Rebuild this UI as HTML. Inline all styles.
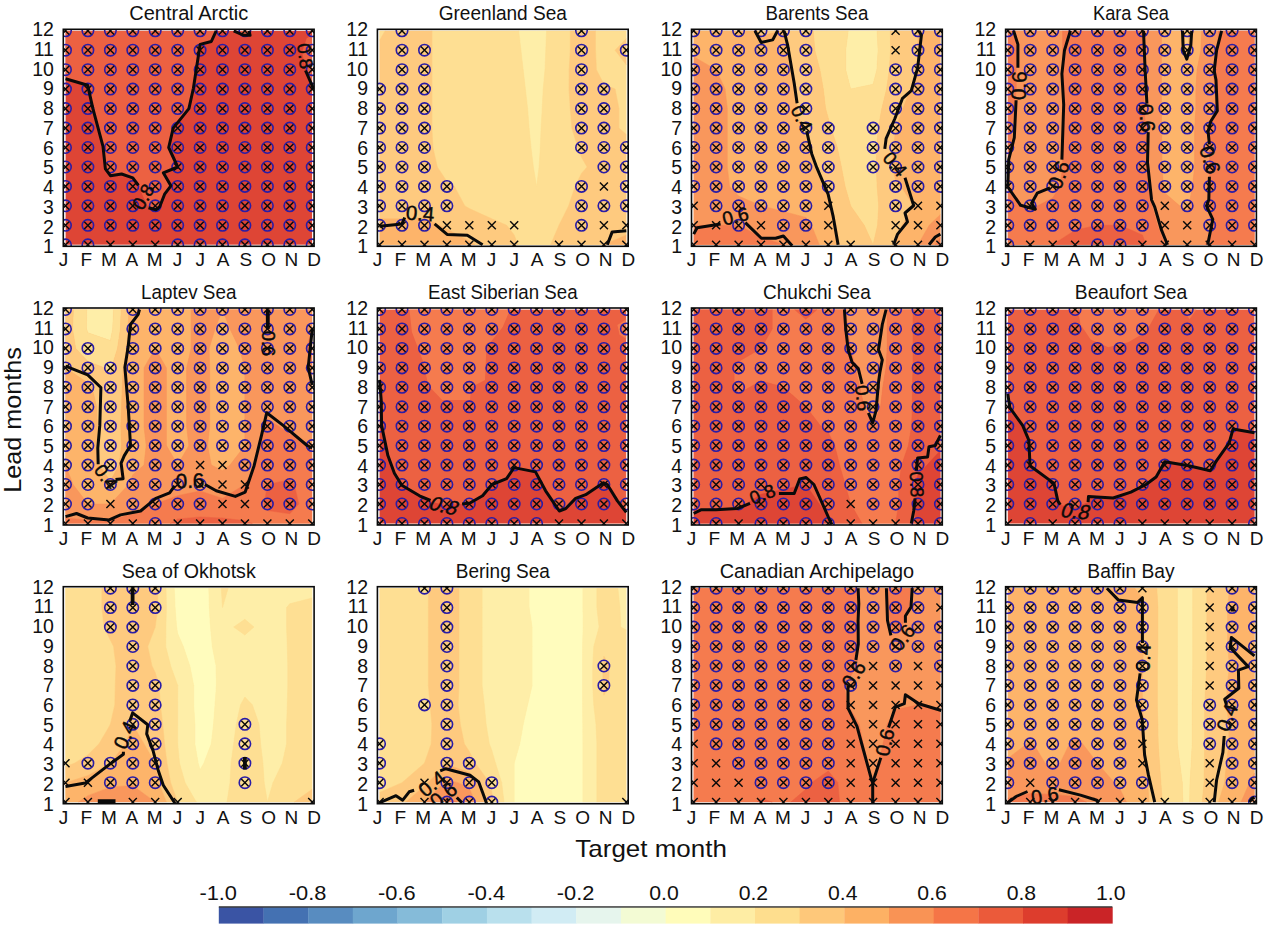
<!DOCTYPE html>
<html lang="en"><head><meta charset="utf-8"><title>Lead months vs target month</title>
<style>html,body{margin:0;padding:0;background:#fff}svg{display:block}</style></head>
<body>
<svg width="1268" height="932" viewBox="0 0 1268 932" font-family='"Liberation Sans", sans-serif'>
<rect width="1268" height="932" fill="#fff"/>
<defs>
<g id="mx"><path d="M-4-4L4 4M-4 4L4-4" stroke="#0a0a0a" stroke-width="1.45" fill="none"/></g>
<g id="mc"><circle r="5.7" fill="none" stroke="#2a1ca6" stroke-width="1.6"/><path d="M-3.6-3.6L3.6 3.6M-3.6 3.6L3.6-3.6" stroke="#0a0a0a" stroke-width="1.45" fill="none"/></g>
</defs>
<g>
<clipPath id="cp0"><rect x="65.2" y="30.5" width="247.3" height="214.5"/></clipPath>
<clipPath id="cl0"><rect x="64" y="29.3" width="249.7" height="216.9"/></clipPath>
<clipPath id="cq0"><rect x="63.3" y="29.3" width="250.8" height="217"/></clipPath>
<g clip-path="url(#cp0)">
<rect x="65.5" y="30.8" width="246.7" height="213.9" fill="#de4535"/>
<path d="M65.5 78.8L87.7 85.3L92.9 108.6L103 146.3L105.4 168.9L110.4 175.7L121.6 174L132.8 177.8L138.4 185.4L142.9 196.1L148.5 207.8L155.9 209.7L159.7 206.8L164.6 194.2L170.9 185.8L163.3 172.8L177.7 167L168.7 147.5L173.2 128.1L188.9 108.6L193.4 88.2L200.1 44.4L211.3 41.5L216.2 30.8L65.5 30.8Z" fill="#ec6142"/>
<path d="M233.7 30.8L243.8 35.3L250.1 35.3L249 30.8Z" fill="#ec6142"/>
<path d="M312.2 88.2L305.5 67.8L302.1 52.2L306.6 38.6L312.2 34.7Z" fill="#ec6142"/>
</g>
<g clip-path="url(#cq0)">
<use href="#mc" x="65.5" y="30.8"/>
<use href="#mc" x="87.9" y="30.8"/>
<use href="#mc" x="110.4" y="30.8"/>
<use href="#mc" x="132.8" y="30.8"/>
<use href="#mc" x="155.2" y="30.8"/>
<use href="#mc" x="177.7" y="30.8"/>
<use href="#mc" x="200.1" y="30.8"/>
<use href="#mc" x="222.5" y="30.8"/>
<use href="#mc" x="244.9" y="30.8"/>
<use href="#mc" x="267.4" y="30.8"/>
<use href="#mc" x="289.8" y="30.8"/>
<use href="#mc" x="312.2" y="30.8"/>
<use href="#mc" x="65.5" y="50.2"/>
<use href="#mc" x="87.9" y="50.2"/>
<use href="#mc" x="110.4" y="50.2"/>
<use href="#mc" x="132.8" y="50.2"/>
<use href="#mc" x="155.2" y="50.2"/>
<use href="#mc" x="177.7" y="50.2"/>
<use href="#mc" x="200.1" y="50.2"/>
<use href="#mc" x="222.5" y="50.2"/>
<use href="#mc" x="244.9" y="50.2"/>
<use href="#mc" x="267.4" y="50.2"/>
<use href="#mc" x="289.8" y="50.2"/>
<use href="#mc" x="312.2" y="50.2"/>
<use href="#mc" x="65.5" y="69.7"/>
<use href="#mc" x="87.9" y="69.7"/>
<use href="#mc" x="110.4" y="69.7"/>
<use href="#mc" x="132.8" y="69.7"/>
<use href="#mc" x="155.2" y="69.7"/>
<use href="#mc" x="177.7" y="69.7"/>
<use href="#mc" x="200.1" y="69.7"/>
<use href="#mc" x="222.5" y="69.7"/>
<use href="#mc" x="244.9" y="69.7"/>
<use href="#mc" x="267.4" y="69.7"/>
<use href="#mc" x="289.8" y="69.7"/>
<use href="#mc" x="312.2" y="69.7"/>
<use href="#mc" x="65.5" y="89.1"/>
<use href="#mc" x="87.9" y="89.1"/>
<use href="#mc" x="110.4" y="89.1"/>
<use href="#mc" x="132.8" y="89.1"/>
<use href="#mc" x="155.2" y="89.1"/>
<use href="#mc" x="177.7" y="89.1"/>
<use href="#mc" x="200.1" y="89.1"/>
<use href="#mc" x="222.5" y="89.1"/>
<use href="#mc" x="244.9" y="89.1"/>
<use href="#mc" x="267.4" y="89.1"/>
<use href="#mc" x="289.8" y="89.1"/>
<use href="#mc" x="312.2" y="89.1"/>
<use href="#mc" x="65.5" y="108.6"/>
<use href="#mc" x="87.9" y="108.6"/>
<use href="#mc" x="110.4" y="108.6"/>
<use href="#mc" x="132.8" y="108.6"/>
<use href="#mc" x="155.2" y="108.6"/>
<use href="#mc" x="177.7" y="108.6"/>
<use href="#mc" x="200.1" y="108.6"/>
<use href="#mc" x="222.5" y="108.6"/>
<use href="#mc" x="244.9" y="108.6"/>
<use href="#mc" x="267.4" y="108.6"/>
<use href="#mc" x="289.8" y="108.6"/>
<use href="#mc" x="312.2" y="108.6"/>
<use href="#mc" x="65.5" y="128.1"/>
<use href="#mc" x="87.9" y="128.1"/>
<use href="#mc" x="110.4" y="128.1"/>
<use href="#mc" x="132.8" y="128.1"/>
<use href="#mc" x="155.2" y="128.1"/>
<use href="#mc" x="177.7" y="128.1"/>
<use href="#mc" x="200.1" y="128.1"/>
<use href="#mc" x="222.5" y="128.1"/>
<use href="#mc" x="244.9" y="128.1"/>
<use href="#mc" x="267.4" y="128.1"/>
<use href="#mc" x="289.8" y="128.1"/>
<use href="#mc" x="312.2" y="128.1"/>
<use href="#mc" x="65.5" y="147.5"/>
<use href="#mc" x="87.9" y="147.5"/>
<use href="#mc" x="110.4" y="147.5"/>
<use href="#mc" x="132.8" y="147.5"/>
<use href="#mc" x="155.2" y="147.5"/>
<use href="#mc" x="177.7" y="147.5"/>
<use href="#mc" x="200.1" y="147.5"/>
<use href="#mc" x="222.5" y="147.5"/>
<use href="#mc" x="244.9" y="147.5"/>
<use href="#mc" x="267.4" y="147.5"/>
<use href="#mc" x="289.8" y="147.5"/>
<use href="#mc" x="312.2" y="147.5"/>
<use href="#mc" x="65.5" y="167"/>
<use href="#mc" x="87.9" y="167"/>
<use href="#mc" x="110.4" y="167"/>
<use href="#mc" x="132.8" y="167"/>
<use href="#mc" x="155.2" y="167"/>
<use href="#mc" x="177.7" y="167"/>
<use href="#mc" x="200.1" y="167"/>
<use href="#mc" x="222.5" y="167"/>
<use href="#mc" x="244.9" y="167"/>
<use href="#mc" x="267.4" y="167"/>
<use href="#mc" x="289.8" y="167"/>
<use href="#mc" x="312.2" y="167"/>
<use href="#mc" x="65.5" y="186.4"/>
<use href="#mc" x="87.9" y="186.4"/>
<use href="#mc" x="110.4" y="186.4"/>
<use href="#mc" x="132.8" y="186.4"/>
<use href="#mc" x="155.2" y="186.4"/>
<use href="#mc" x="177.7" y="186.4"/>
<use href="#mc" x="200.1" y="186.4"/>
<use href="#mc" x="222.5" y="186.4"/>
<use href="#mc" x="244.9" y="186.4"/>
<use href="#mc" x="267.4" y="186.4"/>
<use href="#mc" x="289.8" y="186.4"/>
<use href="#mc" x="312.2" y="186.4"/>
<use href="#mc" x="65.5" y="205.8"/>
<use href="#mc" x="87.9" y="205.8"/>
<use href="#mc" x="110.4" y="205.8"/>
<use href="#mc" x="132.8" y="205.8"/>
<use href="#mc" x="155.2" y="205.8"/>
<use href="#mc" x="177.7" y="205.8"/>
<use href="#mc" x="200.1" y="205.8"/>
<use href="#mc" x="222.5" y="205.8"/>
<use href="#mc" x="244.9" y="205.8"/>
<use href="#mc" x="267.4" y="205.8"/>
<use href="#mc" x="289.8" y="205.8"/>
<use href="#mc" x="312.2" y="205.8"/>
<use href="#mc" x="65.5" y="225.3"/>
<use href="#mc" x="87.9" y="225.3"/>
<use href="#mc" x="110.4" y="225.3"/>
<use href="#mc" x="132.8" y="225.3"/>
<use href="#mc" x="155.2" y="225.3"/>
<use href="#mc" x="177.7" y="225.3"/>
<use href="#mc" x="200.1" y="225.3"/>
<use href="#mc" x="222.5" y="225.3"/>
<use href="#mc" x="244.9" y="225.3"/>
<use href="#mc" x="267.4" y="225.3"/>
<use href="#mc" x="289.8" y="225.3"/>
<use href="#mc" x="312.2" y="225.3"/>
<use href="#mc" x="65.5" y="244.8"/>
<use href="#mc" x="87.9" y="244.8"/>
<use href="#mx" x="110.4" y="244.8"/>
<use href="#mx" x="132.8" y="244.8"/>
<use href="#mx" x="155.2" y="244.8"/>
<use href="#mc" x="177.7" y="244.8"/>
<use href="#mc" x="200.1" y="244.8"/>
<use href="#mc" x="222.5" y="244.8"/>
<use href="#mc" x="244.9" y="244.8"/>
<use href="#mc" x="267.4" y="244.8"/>
<use href="#mc" x="289.8" y="244.8"/>
<use href="#mc" x="312.2" y="244.8"/>
<path d="M65.5 78.8L87.7 85.3L92.9 108.6L103 146.3L105.4 168.9L110.4 175.7L121.6 174L132.8 177.8L138.4 185.4" fill="none" stroke="#0a0a0a" stroke-width="3" stroke-linejoin="round" stroke-linecap="butt"/>
<path d="M148.5 207.8L155.9 209.7L159.7 206.8L164.6 194.2L170.9 185.8L163.3 172.8L177.7 167L168.7 147.5L173.2 128.1L188.9 108.6L193.4 88.2L200.1 44.4L211.3 41.5L216.2 30.8" fill="none" stroke="#0a0a0a" stroke-width="3" stroke-linejoin="round" stroke-linecap="butt"/>
<path d="M233.7 30.8L243.8 35.3L250.1 35.3L249 30.8" fill="none" stroke="#0a0a0a" stroke-width="3" stroke-linejoin="round" stroke-linecap="butt"/>
<path d="M305.5 70.5L313.8 89.3" fill="none" stroke="#0a0a0a" stroke-width="3" stroke-linejoin="round" stroke-linecap="butt"/>
</g>
<g clip-path="url(#cl0)">
<text x="0" y="6.6" transform="translate(143.1 196.7) rotate(-60)" font-size="18.55" text-anchor="middle" fill="#0a0a0a" stroke="#0a0a0a" stroke-width="0.45">0.8</text>
<text x="0" y="6.6" transform="translate(305.3 56.1) rotate(82)" font-size="18.55" text-anchor="middle" fill="#0a0a0a" stroke="#0a0a0a" stroke-width="0.45">0.8</text>
</g>
<rect x="63.3" y="29.3" width="250.8" height="217" fill="none" stroke="#0a0a0a" stroke-width="1.6"/>
<text x="188.7" y="20.1" font-size="19.3" text-anchor="middle" textLength="118.9" lengthAdjust="spacingAndGlyphs" fill="#111">Central Arctic</text>
<text x="63.4" y="266.1" font-size="19" text-anchor="middle" fill="#111">J</text>
<text x="86.2" y="266.1" font-size="19" text-anchor="middle" fill="#111">F</text>
<text x="109" y="266.1" font-size="19" text-anchor="middle" fill="#111">M</text>
<text x="131.8" y="266.1" font-size="19" text-anchor="middle" fill="#111">A</text>
<text x="154.6" y="266.1" font-size="19" text-anchor="middle" fill="#111">M</text>
<text x="177.4" y="266.1" font-size="19" text-anchor="middle" fill="#111">J</text>
<text x="200.2" y="266.1" font-size="19" text-anchor="middle" fill="#111">J</text>
<text x="223" y="266.1" font-size="19" text-anchor="middle" fill="#111">A</text>
<text x="245.8" y="266.1" font-size="19" text-anchor="middle" fill="#111">S</text>
<text x="268.6" y="266.1" font-size="19" text-anchor="middle" fill="#111">O</text>
<text x="291.4" y="266.1" font-size="19" text-anchor="middle" fill="#111">N</text>
<text x="314.2" y="266.1" font-size="19" text-anchor="middle" fill="#111">D</text>
<text x="53.9" y="36.2" font-size="19.5" text-anchor="end" fill="#111">12</text>
<text x="53.9" y="55.9" font-size="19.5" text-anchor="end" fill="#111">11</text>
<text x="53.9" y="75.7" font-size="19.5" text-anchor="end" fill="#111">10</text>
<text x="53.9" y="95.4" font-size="19.5" text-anchor="end" fill="#111">9</text>
<text x="53.9" y="115.1" font-size="19.5" text-anchor="end" fill="#111">8</text>
<text x="53.9" y="134.8" font-size="19.5" text-anchor="end" fill="#111">7</text>
<text x="53.9" y="154.6" font-size="19.5" text-anchor="end" fill="#111">6</text>
<text x="53.9" y="174.3" font-size="19.5" text-anchor="end" fill="#111">5</text>
<text x="53.9" y="194" font-size="19.5" text-anchor="end" fill="#111">4</text>
<text x="53.9" y="213.7" font-size="19.5" text-anchor="end" fill="#111">3</text>
<text x="53.9" y="233.5" font-size="19.5" text-anchor="end" fill="#111">2</text>
<text x="53.9" y="253.2" font-size="19.5" text-anchor="end" fill="#111">1</text>
</g>
<g>
<clipPath id="cp1"><rect x="379.3" y="30.5" width="247.3" height="214.5"/></clipPath>
<clipPath id="cl1"><rect x="378.1" y="29.3" width="249.7" height="216.9"/></clipPath>
<clipPath id="cq1"><rect x="377.4" y="29.3" width="250.8" height="217"/></clipPath>
<g clip-path="url(#cp1)">
<rect x="379.6" y="30.8" width="246.7" height="213.9" fill="#fedf93"/>
<path d="M518.7 30.8L536.6 30.8L546.6 30.8L545.8 50.2L545 69.7L543.2 89.1L542.2 108.6L541.1 128.1L540.3 147.5L539.1 167L536.6 186.4L536.6 186.4L536.6 186.4L533.4 167L531 147.5L529.1 128.1L527.6 108.6L525.4 89.2L523.2 69.7L520.9 50.2L518.7 30.8Z" fill="#feeea8" stroke="#feeea8" stroke-width="0.5" fill-rule="evenodd"/>
<path d="M379.6 30.8L385.2 30.8L379.6 40.5L379.6 30.8ZM431.9 30.8L446.9 30.8L469.3 30.8L491.8 30.8L514.2 30.8L518.7 30.8L520.9 50.2L523.2 69.7L525.4 89.1L527.6 108.6L529.1 128.1L531 147.5L533.4 167L536.6 186.4L536.6 186.4L536.6 186.4L539.1 167L540.3 147.5L541.1 128.1L542.2 108.6L543.2 89.1L545 69.7L545.8 50.2L546.6 30.8L559 30.8L570.3 30.8L570.3 50.2L569.2 69.7L569 89.1L570.3 108.6L571.9 128.1L577.7 147.5L581.5 157.2L587.1 167L581.5 173.4L575.1 186.4L568.7 205.8L559 225.3L559 225.3L550.6 244.8L536.6 244.8L517.9 244.8L514.2 235L506.7 225.3L491.8 218.8L469.3 208.6L464.8 205.8L454.4 186.4L446.9 181.5L437.3 167L432.9 147.5L431.9 128.1L431.9 108.6L431.9 89.1L431.9 69.7L431.9 50.2L431.9 30.8ZM595.5 30.8L603.9 30.8L626.3 30.8L626.3 38.6L615.1 50.2L626.3 64.8L626.3 69.7L626.3 89.1L626.3 108.6L626.3 128.1L626.3 134.5L618.9 128.1L618.9 108.6L615.1 89.1L603.9 84.3L596.4 69.7L595.5 50.2L595.5 30.8Z" fill="#fedf93" stroke="#fedf93" stroke-width="0.5" fill-rule="evenodd"/>
<path d="M385.2 30.8L402 30.8L424.5 30.8L431.9 30.8L431.9 50.2L431.9 69.7L431.9 89.1L431.9 108.6L431.9 128.1L432.9 147.5L437.3 167L446.9 181.5L454.4 186.4L464.8 205.9L469.3 208.6L491.8 218.8L506.7 225.3L514.2 235L517.9 244.8L514.2 244.8L491.8 244.8L474.9 244.8L469.3 240.9L446.9 229.2L439.4 225.3L424.5 217.5L402 218.8L379.6 218.8L379.6 205.8L379.6 186.4L379.6 167L379.6 147.5L379.6 128.1L379.6 108.6L379.6 89.1L379.6 69.7L379.6 50.2L379.6 40.5L385.2 30.8ZM570.3 30.8L581.5 30.8L595.5 30.8L595.5 50.2L596.4 69.7L603.9 84.3L615.1 89.1L618.9 108.6L618.9 128.1L626.3 134.5L626.3 147.5L626.3 167L626.3 186.4L626.3 205.8L626.3 225.3L626.3 235L603.9 244.8L603.9 244.8L581.5 244.8L559 244.8L550.6 244.8L559 225.3L559 225.3L568.7 205.8L575.1 186.4L581.5 173.4L587.1 167L581.5 157.2L577.7 147.5L571.9 128.1L570.3 108.6L569 89.1L569.2 69.7L570.3 50.2L570.3 30.8ZM615.1 50.2L626.3 38.6L626.3 50.2L626.3 64.8L615.1 50.2Z" fill="#feca7f" stroke="#feca7f" stroke-width="0.5" fill-rule="evenodd"/>
<path d="M379.6 225.3L379.6 218.8L402 218.8L424.5 217.5L439.4 225.3L446.9 229.2L469.3 240.9L474.9 244.8L469.3 244.8L446.9 244.8L424.5 244.8L402 244.8L379.6 244.8L379.6 225.3ZM603.9 244.8L626.3 235L626.3 244.8L603.9 244.8Z" fill="#fdb46a" stroke="#fdb46a" stroke-width="0.5" fill-rule="evenodd"/>
</g>
<g clip-path="url(#cq1)">
<use href="#mc" x="402" y="30.8"/>
<use href="#mc" x="581.5" y="30.8"/>
<use href="#mc" x="402" y="50.2"/>
<use href="#mc" x="424.5" y="50.2"/>
<use href="#mc" x="581.5" y="50.2"/>
<use href="#mc" x="626.3" y="50.2"/>
<use href="#mc" x="402" y="69.7"/>
<use href="#mc" x="424.5" y="69.7"/>
<use href="#mc" x="581.5" y="69.7"/>
<use href="#mc" x="379.6" y="89.1"/>
<use href="#mc" x="402" y="89.1"/>
<use href="#mc" x="424.5" y="89.1"/>
<use href="#mc" x="581.5" y="89.1"/>
<use href="#mc" x="603.9" y="89.1"/>
<use href="#mc" x="379.6" y="108.6"/>
<use href="#mc" x="402" y="108.6"/>
<use href="#mc" x="424.5" y="108.6"/>
<use href="#mc" x="581.5" y="108.6"/>
<use href="#mc" x="603.9" y="108.6"/>
<use href="#mc" x="379.6" y="128.1"/>
<use href="#mc" x="402" y="128.1"/>
<use href="#mc" x="424.5" y="128.1"/>
<use href="#mc" x="581.5" y="128.1"/>
<use href="#mc" x="603.9" y="128.1"/>
<use href="#mc" x="379.6" y="147.5"/>
<use href="#mc" x="402" y="147.5"/>
<use href="#mc" x="424.5" y="147.5"/>
<use href="#mc" x="581.5" y="147.5"/>
<use href="#mc" x="603.9" y="147.5"/>
<use href="#mc" x="626.3" y="147.5"/>
<use href="#mc" x="379.6" y="167"/>
<use href="#mc" x="402" y="167"/>
<use href="#mc" x="424.5" y="167"/>
<use href="#mc" x="603.9" y="167"/>
<use href="#mc" x="626.3" y="167"/>
<use href="#mc" x="379.6" y="186.4"/>
<use href="#mc" x="402" y="186.4"/>
<use href="#mc" x="424.5" y="186.4"/>
<use href="#mc" x="446.9" y="186.4"/>
<use href="#mc" x="581.5" y="186.4"/>
<use href="#mx" x="603.9" y="186.4"/>
<use href="#mc" x="626.3" y="186.4"/>
<use href="#mc" x="379.6" y="205.8"/>
<use href="#mc" x="402" y="205.8"/>
<use href="#mc" x="424.5" y="205.8"/>
<use href="#mc" x="446.9" y="205.8"/>
<use href="#mc" x="581.5" y="205.8"/>
<use href="#mc" x="603.9" y="205.8"/>
<use href="#mc" x="626.3" y="205.8"/>
<use href="#mc" x="379.6" y="225.3"/>
<use href="#mc" x="402" y="225.3"/>
<use href="#mc" x="424.5" y="225.3"/>
<use href="#mx" x="446.9" y="225.3"/>
<use href="#mx" x="469.3" y="225.3"/>
<use href="#mx" x="491.8" y="225.3"/>
<use href="#mx" x="514.2" y="225.3"/>
<use href="#mc" x="581.5" y="225.3"/>
<use href="#mx" x="603.9" y="225.3"/>
<use href="#mx" x="626.3" y="225.3"/>
<use href="#mx" x="379.6" y="244.8"/>
<use href="#mx" x="402" y="244.8"/>
<use href="#mx" x="424.5" y="244.8"/>
<use href="#mx" x="446.9" y="244.8"/>
<use href="#mx" x="469.3" y="244.8"/>
<use href="#mx" x="491.8" y="244.8"/>
<use href="#mx" x="514.2" y="244.8"/>
<use href="#mx" x="559" y="244.8"/>
<use href="#mx" x="581.5" y="244.8"/>
<use href="#mx" x="603.9" y="244.8"/>
<use href="#mx" x="626.3" y="244.8"/>
<path d="M379.6 226.3L402 223.9L404.7 217.5" fill="none" stroke="#0a0a0a" stroke-width="3" stroke-linejoin="round" stroke-linecap="butt"/>
<path d="M434.6 223.9L447.1 234.4L467.3 235.2L482.6 244.8" fill="none" stroke="#0a0a0a" stroke-width="3" stroke-linejoin="round" stroke-linecap="butt"/>
<path d="M607.3 244.8L612.2 231.9L626.3 230.7" fill="none" stroke="#0a0a0a" stroke-width="3" stroke-linejoin="round" stroke-linecap="butt"/>
</g>
<g clip-path="url(#cl1)">
<text x="0" y="7.3" transform="translate(420.2 213.2) rotate(4)" font-size="20.458000000000002" text-anchor="middle" fill="#0a0a0a" stroke="#0a0a0a" stroke-width="0.45">0.4</text>
</g>
<rect x="377.4" y="29.3" width="250.8" height="217" fill="none" stroke="#0a0a0a" stroke-width="1.6"/>
<text x="502.8" y="20.1" font-size="19.3" text-anchor="middle" textLength="128.3" lengthAdjust="spacingAndGlyphs" fill="#111">Greenland Sea</text>
<text x="377.5" y="266.1" font-size="19" text-anchor="middle" fill="#111">J</text>
<text x="400.3" y="266.1" font-size="19" text-anchor="middle" fill="#111">F</text>
<text x="423.1" y="266.1" font-size="19" text-anchor="middle" fill="#111">M</text>
<text x="445.9" y="266.1" font-size="19" text-anchor="middle" fill="#111">A</text>
<text x="468.7" y="266.1" font-size="19" text-anchor="middle" fill="#111">M</text>
<text x="491.5" y="266.1" font-size="19" text-anchor="middle" fill="#111">J</text>
<text x="514.3" y="266.1" font-size="19" text-anchor="middle" fill="#111">J</text>
<text x="537.1" y="266.1" font-size="19" text-anchor="middle" fill="#111">A</text>
<text x="559.9" y="266.1" font-size="19" text-anchor="middle" fill="#111">S</text>
<text x="582.7" y="266.1" font-size="19" text-anchor="middle" fill="#111">O</text>
<text x="605.5" y="266.1" font-size="19" text-anchor="middle" fill="#111">N</text>
<text x="628.3" y="266.1" font-size="19" text-anchor="middle" fill="#111">D</text>
<text x="368" y="36.2" font-size="19.5" text-anchor="end" fill="#111">12</text>
<text x="368" y="55.9" font-size="19.5" text-anchor="end" fill="#111">11</text>
<text x="368" y="75.7" font-size="19.5" text-anchor="end" fill="#111">10</text>
<text x="368" y="95.4" font-size="19.5" text-anchor="end" fill="#111">9</text>
<text x="368" y="115.1" font-size="19.5" text-anchor="end" fill="#111">8</text>
<text x="368" y="134.8" font-size="19.5" text-anchor="end" fill="#111">7</text>
<text x="368" y="154.6" font-size="19.5" text-anchor="end" fill="#111">6</text>
<text x="368" y="174.3" font-size="19.5" text-anchor="end" fill="#111">5</text>
<text x="368" y="194" font-size="19.5" text-anchor="end" fill="#111">4</text>
<text x="368" y="213.7" font-size="19.5" text-anchor="end" fill="#111">3</text>
<text x="368" y="233.5" font-size="19.5" text-anchor="end" fill="#111">2</text>
<text x="368" y="253.2" font-size="19.5" text-anchor="end" fill="#111">1</text>
</g>
<g>
<clipPath id="cp2"><rect x="693.4" y="30.5" width="247.3" height="214.5"/></clipPath>
<clipPath id="cl2"><rect x="692.2" y="29.3" width="249.7" height="216.9"/></clipPath>
<clipPath id="cq2"><rect x="691.5" y="29.3" width="250.8" height="217"/></clipPath>
<g clip-path="url(#cp2)">
<rect x="693.7" y="30.8" width="246.7" height="213.9" fill="#fdb46a"/>
<path d="M848.2 30.8L850.7 30.8L873.1 30.8L877.1 30.8L878.1 50.2L876.9 69.7L873.1 84.3L850.7 89.1L850.7 89.2L850.7 89.1L845.7 69.7L845.7 50.2L848.2 30.8Z" fill="#feeea8" stroke="#feeea8" stroke-width="0.5" fill-rule="evenodd"/>
<path d="M813.3 30.8L828.3 30.8L848.2 30.8L845.7 50.2L845.7 69.7L850.7 89.1L850.7 89.2L850.7 89.1L873.1 84.3L876.9 69.7L878.1 50.2L877.1 30.8L890.3 30.8L890.6 50.2L889.3 69.7L886.6 89.1L881.8 108.6L878.3 128.1L876.6 147.5L876.3 167L877.2 186.4L878.7 205.8L877.6 225.3L873.1 244.8L873.1 244.8L873.1 244.8L864.2 225.3L850.7 205.9L850.7 205.8L845.1 186.4L841.4 167L837.3 147.5L831.1 128.1L828.3 118.3L825.6 108.6L823.3 89.1L819.9 69.7L814.8 50.2L813.3 30.8Z" fill="#fedf93" stroke="#fedf93" stroke-width="0.5" fill-rule="evenodd"/>
<path d="M757.3 30.8L761 30.8L783.4 30.8L805.9 30.8L813.3 30.8L814.8 50.2L819.9 69.7L823.3 89.1L825.6 108.6L828.3 118.3L831.1 128.1L837.3 147.5L841.4 167L845.1 186.4L850.7 205.8L850.7 205.9L864.2 225.3L873.1 244.8L850.7 244.8L839.5 244.8L836.4 225.3L830.3 205.8L828.3 196.1L824.5 186.4L817.1 167L809.1 147.5L805.8 137.8L801.4 128.1L797.2 108.6L794.6 89.1L791.8 69.7L787.9 50.2L783.4 30.8L761 35.7L757.3 30.8ZM890.3 30.8L895.6 30.8L918 30.8L918 30.8L918 50.2L918 69.7L918 69.7L910.5 89.1L903 108.6L895.6 128.1L895.6 128.1L893.8 147.5L892.4 167L895.6 179.9L901.2 186.4L913.5 205.8L902 225.3L895.6 238.3L893.5 244.8L873.1 244.7L877.6 225.3L878.7 205.8L877.2 186.4L876.3 167L876.6 147.5L878.3 128.1L881.8 108.6L886.6 89.1L889.3 69.7L890.6 50.2L890.3 30.8Z" fill="#feca7f" stroke="#feca7f" stroke-width="0.5" fill-rule="evenodd"/>
<path d="M693.7 30.8L716.1 30.8L738.6 30.8L757.3 30.8L761 35.7L783.4 30.8L787.9 50.2L791.8 69.7L794.6 89.1L797.2 108.6L801.4 128.1L805.9 137.8L809.1 147.5L817.1 167L824.5 186.4L828.3 196.1L830.3 205.8L836.4 225.3L839.5 244.8L828.3 244.8L819.3 244.8L811.5 225.3L805.9 217.5L783.4 211.4L761 205.9L761 205.8L738.6 196.1L729.6 186.4L727.3 166.9L727.3 147.5L727.3 128.1L727.3 108.6L725.1 89.1L716.1 69.7L716.1 69.7L693.7 56.7L693.7 50.2L693.7 30.8ZM918 30.8L940.4 30.8L940.4 50.2L940.4 69.7L940.4 89.1L940.4 108.6L940.4 128.1L940.4 147.5L940.4 167L940.4 186.4L940.4 205.8L940.4 214.5L929.2 225.3L918 244.7L918 244.8L895.6 244.8L893.5 244.8L895.6 238.3L902 225.3L913.5 205.8L901.2 186.4L895.6 179.9L892.4 167L893.8 147.5L895.6 128.1L895.6 128.1L903 108.6L910.5 89.1L918 69.7L918 69.7L918 50.2L918 30.8Z" fill="#fdb46a" stroke="#fdb46a" stroke-width="0.5" fill-rule="evenodd"/>
<path d="M693.7 69.7L693.7 56.7L716.1 69.7L716.1 69.7L725.1 89.1L727.3 108.6L727.3 128.1L727.3 147.5L727.3 167L729.6 186.4L738.6 196.1L761 205.8L761 205.8L783.4 211.4L805.9 217.5L811.5 225.3L819.3 244.8L805.9 244.8L783.4 244.8L783.4 244.8L761 237L738.6 225.3L716.1 225.3L693.7 225.3L693.7 225.3L693.7 205.8L693.7 186.4L693.7 167L693.7 147.5L693.7 128.1L693.7 108.6L693.7 89.1L693.7 69.7ZM929.2 225.3L940.4 214.5L940.4 225.3L940.4 237.5L935.3 244.8L918 244.8L929.2 225.3Z" fill="#f9975c" stroke="#f9975c" stroke-width="0.5" fill-rule="evenodd"/>
<path d="M693.7 244.8L693.7 225.3L716.1 225.3L738.6 225.3L761 237L783.4 244.8L761 244.8L738.6 244.8L716.1 244.8L693.7 244.8ZM935.3 244.8L940.4 237.5L940.4 244.8L935.3 244.8Z" fill="#f57b4e" stroke="#f57b4e" stroke-width="0.5" fill-rule="evenodd"/>
</g>
<g clip-path="url(#cq2)">
<use href="#mc" x="693.7" y="30.8"/>
<use href="#mc" x="716.1" y="30.8"/>
<use href="#mc" x="738.6" y="30.8"/>
<use href="#mc" x="761" y="30.8"/>
<use href="#mc" x="783.4" y="30.8"/>
<use href="#mc" x="805.9" y="30.8"/>
<use href="#mx" x="895.6" y="30.8"/>
<use href="#mc" x="918" y="30.8"/>
<use href="#mc" x="940.4" y="30.8"/>
<use href="#mc" x="693.7" y="50.2"/>
<use href="#mc" x="716.1" y="50.2"/>
<use href="#mc" x="738.6" y="50.2"/>
<use href="#mc" x="761" y="50.2"/>
<use href="#mc" x="783.4" y="50.2"/>
<use href="#mc" x="805.9" y="50.2"/>
<use href="#mx" x="895.6" y="50.2"/>
<use href="#mc" x="918" y="50.2"/>
<use href="#mc" x="940.4" y="50.2"/>
<use href="#mc" x="693.7" y="69.7"/>
<use href="#mc" x="716.1" y="69.7"/>
<use href="#mc" x="738.6" y="69.7"/>
<use href="#mc" x="761" y="69.7"/>
<use href="#mc" x="783.4" y="69.7"/>
<use href="#mc" x="805.9" y="69.7"/>
<use href="#mc" x="895.6" y="69.7"/>
<use href="#mc" x="918" y="69.7"/>
<use href="#mc" x="940.4" y="69.7"/>
<use href="#mc" x="693.7" y="89.1"/>
<use href="#mc" x="716.1" y="89.1"/>
<use href="#mc" x="738.6" y="89.1"/>
<use href="#mc" x="761" y="89.1"/>
<use href="#mc" x="783.4" y="89.1"/>
<use href="#mc" x="805.9" y="89.1"/>
<use href="#mc" x="895.6" y="89.1"/>
<use href="#mc" x="918" y="89.1"/>
<use href="#mc" x="940.4" y="89.1"/>
<use href="#mc" x="693.7" y="108.6"/>
<use href="#mc" x="716.1" y="108.6"/>
<use href="#mc" x="738.6" y="108.6"/>
<use href="#mc" x="761" y="108.6"/>
<use href="#mc" x="783.4" y="108.6"/>
<use href="#mc" x="805.9" y="108.6"/>
<use href="#mc" x="895.6" y="108.6"/>
<use href="#mc" x="918" y="108.6"/>
<use href="#mc" x="940.4" y="108.6"/>
<use href="#mc" x="693.7" y="128.1"/>
<use href="#mc" x="716.1" y="128.1"/>
<use href="#mc" x="738.6" y="128.1"/>
<use href="#mc" x="761" y="128.1"/>
<use href="#mc" x="783.4" y="128.1"/>
<use href="#mc" x="805.9" y="128.1"/>
<use href="#mc" x="828.3" y="128.1"/>
<use href="#mc" x="873.1" y="128.1"/>
<use href="#mc" x="895.6" y="128.1"/>
<use href="#mc" x="918" y="128.1"/>
<use href="#mc" x="940.4" y="128.1"/>
<use href="#mc" x="693.7" y="147.5"/>
<use href="#mc" x="716.1" y="147.5"/>
<use href="#mc" x="738.6" y="147.5"/>
<use href="#mc" x="761" y="147.5"/>
<use href="#mc" x="783.4" y="147.5"/>
<use href="#mc" x="805.9" y="147.5"/>
<use href="#mc" x="828.3" y="147.5"/>
<use href="#mc" x="873.1" y="147.5"/>
<use href="#mc" x="895.6" y="147.5"/>
<use href="#mc" x="918" y="147.5"/>
<use href="#mc" x="940.4" y="147.5"/>
<use href="#mc" x="693.7" y="167"/>
<use href="#mc" x="716.1" y="167"/>
<use href="#mc" x="738.6" y="167"/>
<use href="#mc" x="761" y="167"/>
<use href="#mc" x="783.4" y="167"/>
<use href="#mc" x="805.9" y="167"/>
<use href="#mc" x="828.3" y="167"/>
<use href="#mc" x="873.1" y="167"/>
<use href="#mc" x="895.6" y="167"/>
<use href="#mc" x="918" y="167"/>
<use href="#mc" x="940.4" y="167"/>
<use href="#mc" x="693.7" y="186.4"/>
<use href="#mc" x="716.1" y="186.4"/>
<use href="#mc" x="738.6" y="186.4"/>
<use href="#mc" x="761" y="186.4"/>
<use href="#mc" x="783.4" y="186.4"/>
<use href="#mc" x="805.9" y="186.4"/>
<use href="#mc" x="828.3" y="186.4"/>
<use href="#mc" x="895.6" y="186.4"/>
<use href="#mc" x="918" y="186.4"/>
<use href="#mc" x="940.4" y="186.4"/>
<use href="#mx" x="693.7" y="205.8"/>
<use href="#mc" x="716.1" y="205.8"/>
<use href="#mc" x="738.6" y="205.8"/>
<use href="#mc" x="761" y="205.8"/>
<use href="#mc" x="783.4" y="205.8"/>
<use href="#mc" x="805.9" y="205.8"/>
<use href="#mx" x="828.3" y="205.8"/>
<use href="#mc" x="895.6" y="205.8"/>
<use href="#mx" x="918" y="205.8"/>
<use href="#mx" x="940.4" y="205.8"/>
<use href="#mx" x="693.7" y="225.3"/>
<use href="#mx" x="716.1" y="225.3"/>
<use href="#mc" x="738.6" y="225.3"/>
<use href="#mx" x="761" y="225.3"/>
<use href="#mc" x="783.4" y="225.3"/>
<use href="#mc" x="805.9" y="225.3"/>
<use href="#mx" x="828.3" y="225.3"/>
<use href="#mx" x="895.6" y="225.3"/>
<use href="#mx" x="918" y="225.3"/>
<use href="#mx" x="940.4" y="225.3"/>
<use href="#mx" x="693.7" y="244.8"/>
<use href="#mx" x="716.1" y="244.8"/>
<use href="#mx" x="738.6" y="244.8"/>
<use href="#mx" x="761" y="244.8"/>
<use href="#mx" x="783.4" y="244.8"/>
<use href="#mx" x="805.9" y="244.8"/>
<use href="#mx" x="828.3" y="244.8"/>
<use href="#mx" x="850.7" y="244.8"/>
<use href="#mx" x="895.6" y="244.8"/>
<use href="#mx" x="918" y="244.8"/>
<use href="#mx" x="940.4" y="244.8"/>
<path d="M784.1 30.8L787.7 45.4L794.2 83.3L797.1 103.3" fill="none" stroke="#0a0a0a" stroke-width="3" stroke-linejoin="round" stroke-linecap="butt"/>
<path d="M806.7 131.2L811.7 153.7L816.8 167.7L828.1 194.2L833.2 216.7L838.1 244.8" fill="none" stroke="#0a0a0a" stroke-width="3" stroke-linejoin="round" stroke-linecap="butt"/>
<path d="M754.9 30.8L761.2 42.5L772.7 39.9L777.6 30.8" fill="none" stroke="#0a0a0a" stroke-width="3" stroke-linejoin="round" stroke-linecap="butt"/>
<path d="M918.9 30.8L921.4 35.3L917.6 68.1L911.3 90.7L902.5 98.3L894.9 118.5L886.1 138.7L884.8 148.9" fill="none" stroke="#0a0a0a" stroke-width="3" stroke-linejoin="round" stroke-linecap="butt"/>
<path d="M905 177.8L913.7 205.5L905 213L907.5 221.8L897.4 234.4L893.6 244.8" fill="none" stroke="#0a0a0a" stroke-width="3" stroke-linejoin="round" stroke-linecap="butt"/>
<path d="M693.7 234.1L697.1 227.8L720.6 224.1" fill="none" stroke="#0a0a0a" stroke-width="3" stroke-linejoin="round" stroke-linecap="butt"/>
<path d="M745.3 222.6L761.4 238.3L775.6 238.3L783.4 236L792.2 245.7" fill="none" stroke="#0a0a0a" stroke-width="3" stroke-linejoin="round" stroke-linecap="butt"/>
<path d="M929 244.8L935.3 237L940.4 234.1" fill="none" stroke="#0a0a0a" stroke-width="3" stroke-linejoin="round" stroke-linecap="butt"/>
</g>
<g clip-path="url(#cl2)">
<text x="0" y="6.6" transform="translate(801.8 118.1) rotate(65)" font-size="18.55" text-anchor="middle" fill="#0a0a0a" stroke="#0a0a0a" stroke-width="0.45">0.4</text>
<text x="0" y="6.6" transform="translate(895.1 164) rotate(50)" font-size="18.55" text-anchor="middle" fill="#0a0a0a" stroke="#0a0a0a" stroke-width="0.45">0.4</text>
<text x="0" y="6.8" transform="translate(735.4 216) rotate(-14)" font-size="19.080000000000002" text-anchor="middle" fill="#0a0a0a" stroke="#0a0a0a" stroke-width="0.45">0.6</text>
</g>
<rect x="691.5" y="29.3" width="250.8" height="217" fill="none" stroke="#0a0a0a" stroke-width="1.6"/>
<text x="816.9" y="20.1" font-size="19.3" text-anchor="middle" textLength="102.9" lengthAdjust="spacingAndGlyphs" fill="#111">Barents Sea</text>
<text x="691.6" y="266.1" font-size="19" text-anchor="middle" fill="#111">J</text>
<text x="714.4" y="266.1" font-size="19" text-anchor="middle" fill="#111">F</text>
<text x="737.2" y="266.1" font-size="19" text-anchor="middle" fill="#111">M</text>
<text x="760" y="266.1" font-size="19" text-anchor="middle" fill="#111">A</text>
<text x="782.8" y="266.1" font-size="19" text-anchor="middle" fill="#111">M</text>
<text x="805.6" y="266.1" font-size="19" text-anchor="middle" fill="#111">J</text>
<text x="828.4" y="266.1" font-size="19" text-anchor="middle" fill="#111">J</text>
<text x="851.2" y="266.1" font-size="19" text-anchor="middle" fill="#111">A</text>
<text x="874" y="266.1" font-size="19" text-anchor="middle" fill="#111">S</text>
<text x="896.8" y="266.1" font-size="19" text-anchor="middle" fill="#111">O</text>
<text x="919.6" y="266.1" font-size="19" text-anchor="middle" fill="#111">N</text>
<text x="942.4" y="266.1" font-size="19" text-anchor="middle" fill="#111">D</text>
<text x="682.1" y="36.2" font-size="19.5" text-anchor="end" fill="#111">12</text>
<text x="682.1" y="55.9" font-size="19.5" text-anchor="end" fill="#111">11</text>
<text x="682.1" y="75.7" font-size="19.5" text-anchor="end" fill="#111">10</text>
<text x="682.1" y="95.4" font-size="19.5" text-anchor="end" fill="#111">9</text>
<text x="682.1" y="115.1" font-size="19.5" text-anchor="end" fill="#111">8</text>
<text x="682.1" y="134.8" font-size="19.5" text-anchor="end" fill="#111">7</text>
<text x="682.1" y="154.6" font-size="19.5" text-anchor="end" fill="#111">6</text>
<text x="682.1" y="174.3" font-size="19.5" text-anchor="end" fill="#111">5</text>
<text x="682.1" y="194" font-size="19.5" text-anchor="end" fill="#111">4</text>
<text x="682.1" y="213.7" font-size="19.5" text-anchor="end" fill="#111">3</text>
<text x="682.1" y="233.5" font-size="19.5" text-anchor="end" fill="#111">2</text>
<text x="682.1" y="253.2" font-size="19.5" text-anchor="end" fill="#111">1</text>
</g>
<g>
<clipPath id="cp3"><rect x="1007.5" y="30.5" width="247.3" height="214.5"/></clipPath>
<clipPath id="cl3"><rect x="1006.3" y="29.3" width="249.7" height="216.9"/></clipPath>
<clipPath id="cq3"><rect x="1005.6" y="29.3" width="250.8" height="217"/></clipPath>
<g clip-path="url(#cp3)">
<rect x="1007.8" y="30.8" width="246.7" height="213.9" fill="#f57b4e"/>
<path d="M1184.7 30.8L1187.2 30.8L1188.6 30.8L1188.5 50.2L1187.2 55.1L1184.7 50.2L1184.7 30.8Z" fill="#feca7f" stroke="#feca7f" stroke-width="0.5" fill-rule="evenodd"/>
<path d="M1161.4 30.8L1164.8 30.8L1184.7 30.8L1184.7 50.2L1187.2 55.1L1188.5 50.2L1188.6 30.8L1201.8 30.8L1200.9 50.2L1197.1 69.7L1195.9 89.1L1195.9 108.6L1194.7 128.1L1194.7 147.5L1194.7 167L1192.4 186.4L1189.1 205.8L1187.2 210.7L1179.8 205.9L1164.8 192.9L1163.4 186.4L1162 167L1161.8 147.5L1161.6 128.1L1161.4 108.6L1161.4 89.1L1161.4 69.7L1161.4 50.2L1161.4 30.8Z" fill="#fdb46a" stroke="#fdb46a" stroke-width="0.5" fill-rule="evenodd"/>
<path d="M1014.2 30.8L1030.2 30.8L1052.7 30.8L1062.6 30.8L1062.6 50.2L1062.6 69.7L1062.6 89.1L1062.6 108.6L1062.6 128.1L1062.6 147.5L1062.6 167L1060.1 186.4L1052.7 198.1L1037.7 205.8L1030.2 210.7L1022.8 205.8L1007.8 186.4L1007.8 186.4L1007.8 167L1007.8 167L1011.5 147.5L1011.5 128.1L1014.2 108.6L1016.2 89.2L1016.2 69.7L1016.2 50.2L1014.2 30.8ZM1144.1 30.8L1161.4 30.8L1161.4 50.2L1161.4 69.7L1161.4 89.1L1161.4 108.6L1161.6 128.1L1161.8 147.5L1162 166.9L1163.4 186.4L1164.8 192.9L1179.8 205.9L1187.2 210.7L1189.1 205.9L1192.4 186.4L1194.7 167L1194.7 147.5L1194.7 128.1L1195.9 108.6L1195.9 89.1L1197.1 69.7L1200.9 50.2L1201.8 30.8L1209.7 30.8L1218.6 30.8L1217.1 50.2L1212.9 69.7L1215.3 89.1L1215.3 108.6L1209.7 128.1L1209.7 147.5L1209.7 167L1209.7 186.4L1209.7 186.4L1207.8 205.9L1209.7 215.6L1212.9 225.3L1209.7 235L1205.2 244.8L1187.2 244.8L1164.8 244.8L1164.8 244.8L1157.3 225.3L1152 205.8L1149.4 186.4L1148 167L1146.9 147.5L1145.6 128.1L1144.1 108.6L1144.1 89.1L1144.1 69.7L1144.1 50.2L1144.1 30.8Z" fill="#f9975c" stroke="#f9975c" stroke-width="0.5" fill-rule="evenodd"/>
<path d="M1007.8 30.8L1014.2 30.8L1016.2 50.2L1016.2 69.7L1016.2 89.1L1014.2 108.6L1011.5 128.1L1011.5 147.5L1007.8 166.9L1007.8 147.5L1007.8 128.1L1007.8 108.6L1007.8 89.1L1007.8 69.7L1007.8 50.2L1007.8 30.8ZM1062.6 30.8L1075.1 30.8L1097.5 30.8L1120 30.8L1142.4 30.8L1144.1 30.8L1144.1 50.2L1144.1 69.7L1144.1 89.1L1144.1 108.6L1145.6 128.1L1146.9 147.5L1148 167L1149.4 186.4L1152 205.8L1157.3 225.3L1164.8 244.8L1146.1 244.8L1142.4 235L1120 225.3L1097.5 225.3L1075.1 230.2L1052.7 244.8L1052.7 244.8L1030.2 244.8L1007.8 244.8L1007.8 225.3L1007.8 205.8L1007.8 186.4L1022.8 205.9L1030.2 210.7L1037.7 205.9L1052.7 198.1L1060.1 186.4L1062.6 167L1062.6 147.5L1062.6 128.1L1062.6 108.6L1062.6 89.1L1062.6 69.7L1062.6 50.2L1062.6 30.8ZM1218.6 30.8L1232.1 30.8L1254.5 30.8L1254.5 50.2L1254.5 69.7L1254.5 89.1L1254.5 108.6L1254.5 128.1L1254.5 147.5L1254.5 167L1254.5 186.4L1254.5 205.8L1254.5 225.3L1254.5 244.8L1232.1 244.8L1209.7 244.8L1205.2 244.8L1209.7 235L1212.9 225.3L1209.7 215.6L1207.8 205.8L1209.7 186.4L1209.7 186.4L1209.7 167L1209.7 147.5L1209.7 128L1215.3 108.6L1215.3 89.1L1212.9 69.7L1217.1 50.2L1218.6 30.8Z" fill="#f57b4e" stroke="#f57b4e" stroke-width="0.5" fill-rule="evenodd"/>
<path d="M1052.7 244.8L1075.1 230.2L1097.5 225.3L1120 225.3L1142.4 235L1146.1 244.8L1142.4 244.8L1120 244.8L1097.5 244.8L1075.1 244.8L1052.7 244.8Z" fill="#ec6142" stroke="#ec6142" stroke-width="0.5" fill-rule="evenodd"/>
</g>
<g clip-path="url(#cq3)">
<use href="#mc" x="1007.8" y="30.8"/>
<use href="#mc" x="1030.2" y="30.8"/>
<use href="#mc" x="1052.7" y="30.8"/>
<use href="#mc" x="1075.1" y="30.8"/>
<use href="#mc" x="1097.5" y="30.8"/>
<use href="#mc" x="1120" y="30.8"/>
<use href="#mc" x="1142.4" y="30.8"/>
<use href="#mc" x="1164.8" y="30.8"/>
<use href="#mc" x="1187.2" y="30.8"/>
<use href="#mc" x="1209.7" y="30.8"/>
<use href="#mc" x="1232.1" y="30.8"/>
<use href="#mc" x="1254.5" y="30.8"/>
<use href="#mc" x="1007.8" y="50.2"/>
<use href="#mc" x="1030.2" y="50.2"/>
<use href="#mc" x="1052.7" y="50.2"/>
<use href="#mc" x="1075.1" y="50.2"/>
<use href="#mc" x="1097.5" y="50.2"/>
<use href="#mc" x="1120" y="50.2"/>
<use href="#mc" x="1142.4" y="50.2"/>
<use href="#mc" x="1164.8" y="50.2"/>
<use href="#mc" x="1187.2" y="50.2"/>
<use href="#mc" x="1209.7" y="50.2"/>
<use href="#mc" x="1232.1" y="50.2"/>
<use href="#mc" x="1254.5" y="50.2"/>
<use href="#mc" x="1007.8" y="69.7"/>
<use href="#mc" x="1030.2" y="69.7"/>
<use href="#mc" x="1052.7" y="69.7"/>
<use href="#mc" x="1075.1" y="69.7"/>
<use href="#mc" x="1097.5" y="69.7"/>
<use href="#mc" x="1120" y="69.7"/>
<use href="#mc" x="1142.4" y="69.7"/>
<use href="#mc" x="1164.8" y="69.7"/>
<use href="#mc" x="1187.2" y="69.7"/>
<use href="#mc" x="1209.7" y="69.7"/>
<use href="#mc" x="1232.1" y="69.7"/>
<use href="#mc" x="1254.5" y="69.7"/>
<use href="#mc" x="1007.8" y="89.1"/>
<use href="#mc" x="1030.2" y="89.1"/>
<use href="#mc" x="1052.7" y="89.1"/>
<use href="#mc" x="1075.1" y="89.1"/>
<use href="#mc" x="1097.5" y="89.1"/>
<use href="#mc" x="1120" y="89.1"/>
<use href="#mc" x="1142.4" y="89.1"/>
<use href="#mc" x="1164.8" y="89.1"/>
<use href="#mc" x="1187.2" y="89.1"/>
<use href="#mc" x="1209.7" y="89.1"/>
<use href="#mc" x="1232.1" y="89.1"/>
<use href="#mc" x="1254.5" y="89.1"/>
<use href="#mc" x="1007.8" y="108.6"/>
<use href="#mc" x="1030.2" y="108.6"/>
<use href="#mc" x="1052.7" y="108.6"/>
<use href="#mc" x="1075.1" y="108.6"/>
<use href="#mc" x="1097.5" y="108.6"/>
<use href="#mc" x="1120" y="108.6"/>
<use href="#mc" x="1142.4" y="108.6"/>
<use href="#mc" x="1164.8" y="108.6"/>
<use href="#mc" x="1187.2" y="108.6"/>
<use href="#mc" x="1209.7" y="108.6"/>
<use href="#mc" x="1232.1" y="108.6"/>
<use href="#mc" x="1254.5" y="108.6"/>
<use href="#mc" x="1007.8" y="128.1"/>
<use href="#mc" x="1030.2" y="128.1"/>
<use href="#mc" x="1052.7" y="128.1"/>
<use href="#mc" x="1075.1" y="128.1"/>
<use href="#mc" x="1097.5" y="128.1"/>
<use href="#mc" x="1120" y="128.1"/>
<use href="#mc" x="1142.4" y="128.1"/>
<use href="#mc" x="1164.8" y="128.1"/>
<use href="#mc" x="1187.2" y="128.1"/>
<use href="#mc" x="1209.7" y="128.1"/>
<use href="#mc" x="1232.1" y="128.1"/>
<use href="#mc" x="1254.5" y="128.1"/>
<use href="#mc" x="1007.8" y="147.5"/>
<use href="#mc" x="1030.2" y="147.5"/>
<use href="#mc" x="1052.7" y="147.5"/>
<use href="#mc" x="1075.1" y="147.5"/>
<use href="#mc" x="1097.5" y="147.5"/>
<use href="#mc" x="1120" y="147.5"/>
<use href="#mc" x="1142.4" y="147.5"/>
<use href="#mc" x="1164.8" y="147.5"/>
<use href="#mc" x="1187.2" y="147.5"/>
<use href="#mc" x="1209.7" y="147.5"/>
<use href="#mc" x="1232.1" y="147.5"/>
<use href="#mc" x="1254.5" y="147.5"/>
<use href="#mc" x="1007.8" y="167"/>
<use href="#mc" x="1030.2" y="167"/>
<use href="#mc" x="1052.7" y="167"/>
<use href="#mc" x="1075.1" y="167"/>
<use href="#mc" x="1097.5" y="167"/>
<use href="#mc" x="1120" y="167"/>
<use href="#mc" x="1142.4" y="167"/>
<use href="#mc" x="1164.8" y="167"/>
<use href="#mc" x="1187.2" y="167"/>
<use href="#mc" x="1209.7" y="167"/>
<use href="#mc" x="1232.1" y="167"/>
<use href="#mc" x="1254.5" y="167"/>
<use href="#mc" x="1007.8" y="186.4"/>
<use href="#mc" x="1030.2" y="186.4"/>
<use href="#mc" x="1052.7" y="186.4"/>
<use href="#mc" x="1075.1" y="186.4"/>
<use href="#mc" x="1097.5" y="186.4"/>
<use href="#mc" x="1120" y="186.4"/>
<use href="#mc" x="1142.4" y="186.4"/>
<use href="#mc" x="1164.8" y="186.4"/>
<use href="#mc" x="1187.2" y="186.4"/>
<use href="#mc" x="1209.7" y="186.4"/>
<use href="#mc" x="1232.1" y="186.4"/>
<use href="#mc" x="1254.5" y="186.4"/>
<use href="#mc" x="1007.8" y="205.8"/>
<use href="#mc" x="1030.2" y="205.8"/>
<use href="#mc" x="1052.7" y="205.8"/>
<use href="#mc" x="1075.1" y="205.8"/>
<use href="#mc" x="1097.5" y="205.8"/>
<use href="#mc" x="1120" y="205.8"/>
<use href="#mc" x="1142.4" y="205.8"/>
<use href="#mx" x="1164.8" y="205.8"/>
<use href="#mc" x="1187.2" y="205.8"/>
<use href="#mc" x="1209.7" y="205.8"/>
<use href="#mc" x="1232.1" y="205.8"/>
<use href="#mc" x="1254.5" y="205.8"/>
<use href="#mc" x="1007.8" y="225.3"/>
<use href="#mc" x="1030.2" y="225.3"/>
<use href="#mc" x="1052.7" y="225.3"/>
<use href="#mc" x="1075.1" y="225.3"/>
<use href="#mc" x="1097.5" y="225.3"/>
<use href="#mc" x="1120" y="225.3"/>
<use href="#mc" x="1142.4" y="225.3"/>
<use href="#mx" x="1164.8" y="225.3"/>
<use href="#mx" x="1187.2" y="225.3"/>
<use href="#mc" x="1209.7" y="225.3"/>
<use href="#mc" x="1232.1" y="225.3"/>
<use href="#mc" x="1254.5" y="225.3"/>
<use href="#mc" x="1007.8" y="244.8"/>
<use href="#mx" x="1030.2" y="244.8"/>
<use href="#mx" x="1052.7" y="244.8"/>
<use href="#mx" x="1075.1" y="244.8"/>
<use href="#mc" x="1097.5" y="244.8"/>
<use href="#mc" x="1120" y="244.8"/>
<use href="#mx" x="1142.4" y="244.8"/>
<use href="#mx" x="1164.8" y="244.8"/>
<use href="#mx" x="1187.2" y="244.8"/>
<use href="#mx" x="1209.7" y="244.8"/>
<use href="#mx" x="1232.1" y="244.8"/>
<use href="#mx" x="1254.5" y="244.8"/>
<path d="M1013.6 30.8L1017.9 44.4L1017.9 67.8" fill="none" stroke="#0a0a0a" stroke-width="3" stroke-linejoin="round" stroke-linecap="butt"/>
<path d="M1016.1 100.2L1014.3 137.6L1008.7 159.6L1007.8 187L1020.6 205.3L1035.4 209.2L1031.6 203.3L1037.2 193.2L1050 187.8" fill="none" stroke="#0a0a0a" stroke-width="3" stroke-linejoin="round" stroke-linecap="butt"/>
<path d="M1061.9 159.6L1063.7 104.7L1061.9 73.8L1064.5 50.2L1070.4 30.8" fill="none" stroke="#0a0a0a" stroke-width="3" stroke-linejoin="round" stroke-linecap="butt"/>
<path d="M1143.5 30.8L1145.1 69.7L1146.9 103.7" fill="none" stroke="#0a0a0a" stroke-width="3" stroke-linejoin="round" stroke-linecap="butt"/>
<path d="M1148.2 132.1L1147.5 162.5L1151.6 200L1154.7 206.8L1161.2 229.4L1167.5 244.8" fill="none" stroke="#0a0a0a" stroke-width="3" stroke-linejoin="round" stroke-linecap="butt"/>
<path d="M1182.5 30.8L1183.2 50.2L1186.8 59.2L1190.8 45.4L1191.7 30.8" fill="none" stroke="#0a0a0a" stroke-width="3" stroke-linejoin="round" stroke-linecap="butt"/>
<path d="M1221.6 30.8L1216.6 50.4L1214.2 70.7L1216 80L1217.3 110.9L1210.8 121.2L1208.1 131.6L1209.4 144.4" fill="none" stroke="#0a0a0a" stroke-width="3" stroke-linejoin="round" stroke-linecap="butt"/>
<path d="M1209.4 176.7L1208.8 200L1206.5 205.8L1212.8 219.3L1207.7 244.8" fill="none" stroke="#0a0a0a" stroke-width="3" stroke-linejoin="round" stroke-linecap="butt"/>
</g>
<g clip-path="url(#cl3)">
<text x="0" y="7.3" transform="translate(1018.8 85.6) rotate(-88)" font-size="20.67" text-anchor="middle" fill="#0a0a0a" stroke="#0a0a0a" stroke-width="0.45">0.6</text>
<text x="0" y="7.1" transform="translate(1058.7 174.9) rotate(-70)" font-size="20.14" text-anchor="middle" fill="#0a0a0a" stroke="#0a0a0a" stroke-width="0.45">0.6</text>
<text x="0" y="7.1" transform="translate(1147.1 117.9) rotate(84)" font-size="20.14" text-anchor="middle" fill="#0a0a0a" stroke="#0a0a0a" stroke-width="0.45">0.6</text>
<text x="0" y="7.1" transform="translate(1210.1 159.8) rotate(72)" font-size="20.14" text-anchor="middle" fill="#0a0a0a" stroke="#0a0a0a" stroke-width="0.45">0.6</text>
</g>
<rect x="1005.6" y="29.3" width="250.8" height="217" fill="none" stroke="#0a0a0a" stroke-width="1.6"/>
<text x="1131" y="20.1" font-size="19.3" text-anchor="middle" textLength="76.0" lengthAdjust="spacingAndGlyphs" fill="#111">Kara Sea</text>
<text x="1005.7" y="266.1" font-size="19" text-anchor="middle" fill="#111">J</text>
<text x="1028.5" y="266.1" font-size="19" text-anchor="middle" fill="#111">F</text>
<text x="1051.3" y="266.1" font-size="19" text-anchor="middle" fill="#111">M</text>
<text x="1074.1" y="266.1" font-size="19" text-anchor="middle" fill="#111">A</text>
<text x="1096.9" y="266.1" font-size="19" text-anchor="middle" fill="#111">M</text>
<text x="1119.7" y="266.1" font-size="19" text-anchor="middle" fill="#111">J</text>
<text x="1142.5" y="266.1" font-size="19" text-anchor="middle" fill="#111">J</text>
<text x="1165.3" y="266.1" font-size="19" text-anchor="middle" fill="#111">A</text>
<text x="1188.1" y="266.1" font-size="19" text-anchor="middle" fill="#111">S</text>
<text x="1210.9" y="266.1" font-size="19" text-anchor="middle" fill="#111">O</text>
<text x="1233.7" y="266.1" font-size="19" text-anchor="middle" fill="#111">N</text>
<text x="1256.5" y="266.1" font-size="19" text-anchor="middle" fill="#111">D</text>
<text x="996.2" y="36.2" font-size="19.5" text-anchor="end" fill="#111">12</text>
<text x="996.2" y="55.9" font-size="19.5" text-anchor="end" fill="#111">11</text>
<text x="996.2" y="75.7" font-size="19.5" text-anchor="end" fill="#111">10</text>
<text x="996.2" y="95.4" font-size="19.5" text-anchor="end" fill="#111">9</text>
<text x="996.2" y="115.1" font-size="19.5" text-anchor="end" fill="#111">8</text>
<text x="996.2" y="134.8" font-size="19.5" text-anchor="end" fill="#111">7</text>
<text x="996.2" y="154.6" font-size="19.5" text-anchor="end" fill="#111">6</text>
<text x="996.2" y="174.3" font-size="19.5" text-anchor="end" fill="#111">5</text>
<text x="996.2" y="194" font-size="19.5" text-anchor="end" fill="#111">4</text>
<text x="996.2" y="213.7" font-size="19.5" text-anchor="end" fill="#111">3</text>
<text x="996.2" y="233.5" font-size="19.5" text-anchor="end" fill="#111">2</text>
<text x="996.2" y="253.2" font-size="19.5" text-anchor="end" fill="#111">1</text>
</g>
<g>
<clipPath id="cp4"><rect x="65.2" y="309.2" width="247.3" height="214.5"/></clipPath>
<clipPath id="cl4"><rect x="64" y="308" width="249.7" height="216.9"/></clipPath>
<clipPath id="cq4"><rect x="63.3" y="308" width="250.8" height="217"/></clipPath>
<g clip-path="url(#cp4)">
<rect x="65.5" y="309.5" width="246.7" height="213.9" fill="#f9975c"/>
<path d="M86.6 309.5L87.9 309.5L110.4 309.5L113.5 309.5L112.7 328.9L110.4 340.6L87.9 332.8L86.5 328.9L86.6 309.5Z" fill="#feeea8" stroke="#feeea8" stroke-width="0.5" fill-rule="evenodd"/>
<path d="M73.4 309.5L86.6 309.5L86.5 328.9L87.9 332.8L110.4 340.6L112.7 328.9L113.5 309.5L121.2 309.5L120.4 328.9L117.5 348.4L111.5 367.9L110.4 377.6L104.8 367.9L87.9 361.4L75.7 348.4L72.5 328.9L73.4 309.5Z" fill="#fedf93" stroke="#fedf93" stroke-width="0.5" fill-rule="evenodd"/>
<path d="M65.5 309.5L73.4 309.5L72.5 328.9L75.7 348.4L87.9 361.4L104.8 367.9L110.4 377.6L111.5 367.9L117.5 348.4L120.4 329L121.2 309.5L128.9 309.5L128.1 328.9L126.5 348.4L123.3 367.9L122.2 387.3L121.6 406.8L120.8 426.2L121.6 445.6L119 465.1L110.4 481.3L99.1 465.1L97.3 445.6L97.3 426.2L96.6 406.8L92 387.3L87.9 383L65.5 367.9L65.5 367.9L65.5 348.4L65.5 328.9L65.5 309.5Z" fill="#feca7f" stroke="#feca7f" stroke-width="0.5" fill-rule="evenodd"/>
<path d="M128.9 309.5L132.8 309.5L155.2 309.5L177.7 309.5L191.1 309.5L191.1 328.9L191.1 348.4L186.6 367.9L186.6 387.3L186.6 406.8L186.6 426.2L188.9 445.6L177.7 465.1L177.7 465.1L177.6 465.1L166.4 445.6L166.4 426.2L166.4 406.8L166.4 387.3L166.4 367.9L155.2 348.4L144 367.9L144 387.3L144 406.8L144 426.2L146.2 445.6L144 465.1L132.8 474.8L128.7 484.6L110.4 504L110.4 504L87.9 504L87.9 504L73 484.5L65.5 465.1L65.5 465.1L65.5 445.6L65.5 426.2L65.5 406.8L65.5 387.3L65.5 367.9L87.9 383L92 387.3L96.6 406.8L97.3 426.2L97.3 445.6L99.1 465.1L110.4 481.3L119 465.1L121.6 445.6L120.8 426.2L121.6 406.8L122.2 387.3L123.3 367.9L126.5 348.4L128.1 328.9L128.9 309.5ZM222.5 309.5L222.5 309.5L222.5 309.5L230 328.9L239.3 348.4L244.9 367.8L244.9 367.9L244.9 387.3L244.9 406.8L244.9 426.2L244.9 445.6L244.9 445.7L230 465.1L222.5 470.7L211.3 465.1L207.6 445.6L209.7 426.2L209.7 406.8L209.7 387.3L209.7 367.9L209.1 348.4L215 328.9L222.5 309.5Z" fill="#fdb46a" stroke="#fdb46a" stroke-width="0.5" fill-rule="evenodd"/>
<path d="M191.1 309.5L200.1 309.5L222.5 309.5L215 328.9L209.1 348.4L209.7 367.9L209.7 387.3L209.7 406.8L209.7 426.2L207.6 445.6L211.3 465.1L222.5 470.7L230 465.1L244.9 445.6L244.9 445.6L244.9 426.2L244.9 406.8L244.9 387.3L244.9 367.9L244.9 367.9L239.3 348.4L230 328.9L222.5 309.5L244.9 309.5L264.9 309.5L267.4 328.9L271.1 309.5L289.8 309.5L312.2 309.5L312.2 328.9L312.2 328.9L306.6 348.4L312.2 367.9L312.2 367.9L312.2 387.3L312.2 406.8L312.2 426.2L312.2 445.6L312.2 445.6L312.2 445.6L289.8 434L278.6 426.2L267.4 419.7L263.6 426.2L259 445.6L254.6 465.1L244.9 484.5L244.9 484.5L222.5 498.4L200.1 491L177.7 495.7L155.2 504L155.2 504L132.8 513.7L110.4 520.2L87.9 520.2L65.5 517.9L65.5 504L65.5 484.5L65.5 465.1L73 484.5L87.9 504L87.9 504L110.4 504L110.4 504L128.7 484.5L132.8 474.8L144 465.1L146.2 445.6L144 426.2L144 406.8L144 387.3L144 367.9L155.2 348.4L166.4 367.9L166.4 387.3L166.4 406.8L166.4 426.2L166.4 445.6L177.7 465.1L177.7 465.1L177.7 465.1L188.9 445.6L186.6 426.2L186.6 406.8L186.6 387.3L186.6 367.9L191.1 348.4L191.1 328.9L191.1 309.5Z" fill="#f9975c" stroke="#f9975c" stroke-width="0.5" fill-rule="evenodd"/>
<path d="M264.9 309.5L267.4 309.5L271.1 309.5L267.4 328.9L264.9 309.5ZM306.6 348.4L312.2 329L312.2 348.4L312.2 367.8L306.6 348.4ZM263.6 426.2L267.4 419.7L278.6 426.2L289.8 434L312.2 445.6L312.2 445.7L312.2 465.1L312.2 484.5L312.2 504L312.2 523.5L289.8 523.5L267.4 523.5L252.4 523.5L244.9 520.7L222.5 518.1L200.1 517L177.7 519.1L170.2 523.5L155.2 523.5L132.8 523.5L110.4 523.5L87.9 523.5L65.5 523.5L65.5 517.9L87.9 520.2L110.4 520.2L132.8 513.7L155.2 504L155.2 504L177.7 495.7L200.1 491L222.5 498.4L244.9 484.6L244.9 484.5L254.6 465.1L259 445.6L263.6 426.2ZM289.8 479.7L267.4 484.5L267.4 484.6L264.2 504L267.4 510.5L289.8 513.7L298.8 504L294.3 484.5L289.8 479.7Z" fill="#f57b4e" stroke="#f57b4e" stroke-width="0.5" fill-rule="evenodd"/>
<path d="M267.4 484.5L289.8 479.7L294.3 484.5L298.8 504L289.8 513.7L267.4 510.5L264.2 504L267.4 484.6L267.4 484.5ZM170.2 523.5L177.7 519.1L200.1 517L222.5 518.1L244.9 520.7L252.4 523.5L244.9 523.5L222.5 523.5L200.1 523.5L177.7 523.5L170.2 523.5Z" fill="#ec6142" stroke="#ec6142" stroke-width="0.5" fill-rule="evenodd"/>
</g>
<g clip-path="url(#cq4)">
<use href="#mc" x="65.5" y="309.5"/>
<use href="#mc" x="132.8" y="309.5"/>
<use href="#mc" x="155.2" y="309.5"/>
<use href="#mc" x="177.7" y="309.5"/>
<use href="#mc" x="200.1" y="309.5"/>
<use href="#mc" x="222.5" y="309.5"/>
<use href="#mc" x="244.9" y="309.5"/>
<use href="#mc" x="267.4" y="309.5"/>
<use href="#mc" x="289.8" y="309.5"/>
<use href="#mc" x="312.2" y="309.5"/>
<use href="#mc" x="65.5" y="328.9"/>
<use href="#mc" x="132.8" y="328.9"/>
<use href="#mc" x="155.2" y="328.9"/>
<use href="#mc" x="177.7" y="328.9"/>
<use href="#mc" x="200.1" y="328.9"/>
<use href="#mc" x="222.5" y="328.9"/>
<use href="#mc" x="244.9" y="328.9"/>
<use href="#mc" x="267.4" y="328.9"/>
<use href="#mc" x="289.8" y="328.9"/>
<use href="#mc" x="312.2" y="328.9"/>
<use href="#mc" x="65.5" y="348.4"/>
<use href="#mc" x="87.9" y="348.4"/>
<use href="#mc" x="132.8" y="348.4"/>
<use href="#mc" x="155.2" y="348.4"/>
<use href="#mc" x="177.7" y="348.4"/>
<use href="#mc" x="200.1" y="348.4"/>
<use href="#mc" x="222.5" y="348.4"/>
<use href="#mc" x="244.9" y="348.4"/>
<use href="#mc" x="267.4" y="348.4"/>
<use href="#mc" x="289.8" y="348.4"/>
<use href="#mc" x="312.2" y="348.4"/>
<use href="#mc" x="65.5" y="367.9"/>
<use href="#mc" x="87.9" y="367.9"/>
<use href="#mc" x="110.4" y="367.9"/>
<use href="#mc" x="132.8" y="367.9"/>
<use href="#mc" x="155.2" y="367.9"/>
<use href="#mc" x="177.7" y="367.9"/>
<use href="#mc" x="200.1" y="367.9"/>
<use href="#mc" x="222.5" y="367.9"/>
<use href="#mc" x="244.9" y="367.9"/>
<use href="#mc" x="267.4" y="367.9"/>
<use href="#mc" x="289.8" y="367.9"/>
<use href="#mc" x="312.2" y="367.9"/>
<use href="#mc" x="65.5" y="387.3"/>
<use href="#mc" x="87.9" y="387.3"/>
<use href="#mc" x="110.4" y="387.3"/>
<use href="#mc" x="132.8" y="387.3"/>
<use href="#mc" x="155.2" y="387.3"/>
<use href="#mc" x="177.7" y="387.3"/>
<use href="#mc" x="200.1" y="387.3"/>
<use href="#mc" x="222.5" y="387.3"/>
<use href="#mc" x="244.9" y="387.3"/>
<use href="#mc" x="267.4" y="387.3"/>
<use href="#mc" x="289.8" y="387.3"/>
<use href="#mc" x="312.2" y="387.3"/>
<use href="#mc" x="65.5" y="406.8"/>
<use href="#mc" x="87.9" y="406.8"/>
<use href="#mc" x="110.4" y="406.8"/>
<use href="#mc" x="132.8" y="406.8"/>
<use href="#mc" x="155.2" y="406.8"/>
<use href="#mc" x="177.7" y="406.8"/>
<use href="#mc" x="200.1" y="406.8"/>
<use href="#mc" x="222.5" y="406.8"/>
<use href="#mc" x="244.9" y="406.8"/>
<use href="#mc" x="267.4" y="406.8"/>
<use href="#mc" x="289.8" y="406.8"/>
<use href="#mc" x="312.2" y="406.8"/>
<use href="#mc" x="65.5" y="426.2"/>
<use href="#mc" x="87.9" y="426.2"/>
<use href="#mc" x="110.4" y="426.2"/>
<use href="#mc" x="132.8" y="426.2"/>
<use href="#mc" x="155.2" y="426.2"/>
<use href="#mc" x="177.7" y="426.2"/>
<use href="#mc" x="200.1" y="426.2"/>
<use href="#mc" x="222.5" y="426.2"/>
<use href="#mc" x="244.9" y="426.2"/>
<use href="#mc" x="267.4" y="426.2"/>
<use href="#mc" x="289.8" y="426.2"/>
<use href="#mc" x="312.2" y="426.2"/>
<use href="#mc" x="65.5" y="445.6"/>
<use href="#mc" x="87.9" y="445.6"/>
<use href="#mc" x="110.4" y="445.6"/>
<use href="#mc" x="132.8" y="445.6"/>
<use href="#mc" x="155.2" y="445.6"/>
<use href="#mc" x="177.7" y="445.6"/>
<use href="#mc" x="200.1" y="445.6"/>
<use href="#mc" x="222.5" y="445.6"/>
<use href="#mc" x="244.9" y="445.6"/>
<use href="#mc" x="267.4" y="445.6"/>
<use href="#mc" x="289.8" y="445.6"/>
<use href="#mc" x="312.2" y="445.6"/>
<use href="#mc" x="65.5" y="465.1"/>
<use href="#mc" x="87.9" y="465.1"/>
<use href="#mc" x="110.4" y="465.1"/>
<use href="#mc" x="132.8" y="465.1"/>
<use href="#mc" x="155.2" y="465.1"/>
<use href="#mc" x="177.7" y="465.1"/>
<use href="#mx" x="200.1" y="465.1"/>
<use href="#mx" x="222.5" y="465.1"/>
<use href="#mc" x="244.9" y="465.1"/>
<use href="#mc" x="267.4" y="465.1"/>
<use href="#mc" x="289.8" y="465.1"/>
<use href="#mc" x="312.2" y="465.1"/>
<use href="#mc" x="65.5" y="484.5"/>
<use href="#mc" x="87.9" y="484.5"/>
<use href="#mc" x="110.4" y="484.5"/>
<use href="#mc" x="132.8" y="484.5"/>
<use href="#mc" x="155.2" y="484.5"/>
<use href="#mc" x="177.7" y="484.5"/>
<use href="#mc" x="200.1" y="484.5"/>
<use href="#mx" x="222.5" y="484.5"/>
<use href="#mx" x="244.9" y="484.5"/>
<use href="#mc" x="267.4" y="484.5"/>
<use href="#mc" x="289.8" y="484.5"/>
<use href="#mc" x="312.2" y="484.5"/>
<use href="#mc" x="65.5" y="504"/>
<use href="#mc" x="87.9" y="504"/>
<use href="#mx" x="110.4" y="504"/>
<use href="#mc" x="132.8" y="504"/>
<use href="#mc" x="155.2" y="504"/>
<use href="#mc" x="177.7" y="504"/>
<use href="#mc" x="200.1" y="504"/>
<use href="#mx" x="222.5" y="504"/>
<use href="#mx" x="244.9" y="504"/>
<use href="#mc" x="267.4" y="504"/>
<use href="#mc" x="289.8" y="504"/>
<use href="#mc" x="312.2" y="504"/>
<use href="#mx" x="65.5" y="523.5"/>
<use href="#mx" x="87.9" y="523.5"/>
<use href="#mx" x="110.4" y="523.5"/>
<use href="#mx" x="132.8" y="523.5"/>
<use href="#mc" x="155.2" y="523.5"/>
<use href="#mx" x="177.7" y="523.5"/>
<use href="#mx" x="200.1" y="523.5"/>
<use href="#mx" x="222.5" y="523.5"/>
<use href="#mx" x="244.9" y="523.5"/>
<use href="#mx" x="267.4" y="523.5"/>
<use href="#mx" x="289.8" y="523.5"/>
<use href="#mx" x="312.2" y="523.5"/>
<path d="M65.5 366.1L87.7 374.9L100.9 387.5L99.8 425.4L97.8 448L98.2 464.3" fill="none" stroke="#0a0a0a" stroke-width="3" stroke-linejoin="round" stroke-linecap="butt"/>
<path d="M115.5 479.5L123.1 478.7L121.1 463.2L124.3 455.6L130.5 445.5L128.1 405.2L124.9 367.3L128.1 347.2L130.5 324.5L138.2 314.4L139.5 309.5" fill="none" stroke="#0a0a0a" stroke-width="3" stroke-linejoin="round" stroke-linecap="butt"/>
<path d="M65.5 516.6L76.5 513.5L87.7 518L109.2 519.9L120.5 514.9L140.6 511L155.9 498.4L169.6 492.9L174.7 485.9" fill="none" stroke="#0a0a0a" stroke-width="3" stroke-linejoin="round" stroke-linecap="butt"/>
<path d="M205 484.5L216.2 490.8L235.3 496.4L245.2 492.1L254.1 465.7L261.5 435.3L266.7 412.8L283.1 425.4L307.1 445.5L312.2 448" fill="none" stroke="#0a0a0a" stroke-width="3" stroke-linejoin="round" stroke-linecap="butt"/>
<path d="M312.2 329.5L308.2 367.3L312.2 385" fill="none" stroke="#0a0a0a" stroke-width="3" stroke-linejoin="round" stroke-linecap="butt"/>
<path d="M267.8 309.5L267.8 329.1" fill="none" stroke="#0a0a0a" stroke-width="3.8" stroke-linecap="butt"/>
</g>
<g clip-path="url(#cl4)">
<text x="0" y="6.6" transform="translate(106.1 476.8) rotate(55)" font-size="18.55" text-anchor="middle" fill="#0a0a0a" stroke="#0a0a0a" stroke-width="0.45">0.4</text>
<text x="0" y="7.3" transform="translate(190 480.5) rotate(-2)" font-size="20.564" text-anchor="middle" fill="#0a0a0a" stroke="#0a0a0a" stroke-width="0.45">0.6</text>
<text x="0" y="6.6" transform="translate(268.7 343.5) rotate(90)" font-size="18.55" text-anchor="middle" fill="#0a0a0a" stroke="#0a0a0a" stroke-width="0.45">0.6</text>
</g>
<rect x="63.3" y="308" width="250.8" height="217" fill="none" stroke="#0a0a0a" stroke-width="1.6"/>
<text x="188.7" y="298.8" font-size="19.3" text-anchor="middle" textLength="95.4" lengthAdjust="spacingAndGlyphs" fill="#111">Laptev Sea</text>
<text x="63.4" y="544.8" font-size="19" text-anchor="middle" fill="#111">J</text>
<text x="86.2" y="544.8" font-size="19" text-anchor="middle" fill="#111">F</text>
<text x="109" y="544.8" font-size="19" text-anchor="middle" fill="#111">M</text>
<text x="131.8" y="544.8" font-size="19" text-anchor="middle" fill="#111">A</text>
<text x="154.6" y="544.8" font-size="19" text-anchor="middle" fill="#111">M</text>
<text x="177.4" y="544.8" font-size="19" text-anchor="middle" fill="#111">J</text>
<text x="200.2" y="544.8" font-size="19" text-anchor="middle" fill="#111">J</text>
<text x="223" y="544.8" font-size="19" text-anchor="middle" fill="#111">A</text>
<text x="245.8" y="544.8" font-size="19" text-anchor="middle" fill="#111">S</text>
<text x="268.6" y="544.8" font-size="19" text-anchor="middle" fill="#111">O</text>
<text x="291.4" y="544.8" font-size="19" text-anchor="middle" fill="#111">N</text>
<text x="314.2" y="544.8" font-size="19" text-anchor="middle" fill="#111">D</text>
<text x="53.9" y="314.9" font-size="19.5" text-anchor="end" fill="#111">12</text>
<text x="53.9" y="334.6" font-size="19.5" text-anchor="end" fill="#111">11</text>
<text x="53.9" y="354.4" font-size="19.5" text-anchor="end" fill="#111">10</text>
<text x="53.9" y="374.1" font-size="19.5" text-anchor="end" fill="#111">9</text>
<text x="53.9" y="393.8" font-size="19.5" text-anchor="end" fill="#111">8</text>
<text x="53.9" y="413.5" font-size="19.5" text-anchor="end" fill="#111">7</text>
<text x="53.9" y="433.3" font-size="19.5" text-anchor="end" fill="#111">6</text>
<text x="53.9" y="453" font-size="19.5" text-anchor="end" fill="#111">5</text>
<text x="53.9" y="472.7" font-size="19.5" text-anchor="end" fill="#111">4</text>
<text x="53.9" y="492.4" font-size="19.5" text-anchor="end" fill="#111">3</text>
<text x="53.9" y="512.2" font-size="19.5" text-anchor="end" fill="#111">2</text>
<text x="53.9" y="531.9" font-size="19.5" text-anchor="end" fill="#111">1</text>
</g>
<g>
<clipPath id="cp5"><rect x="379.3" y="309.2" width="247.3" height="214.5"/></clipPath>
<clipPath id="cl5"><rect x="378.1" y="308" width="249.7" height="216.9"/></clipPath>
<clipPath id="cq5"><rect x="377.4" y="308" width="250.8" height="217"/></clipPath>
<g clip-path="url(#cp5)">
<rect x="379.6" y="309.5" width="246.7" height="213.9" fill="#ec6142"/>
<path d="M409.4 309.5L411.9 332.1L423.3 362L428.3 385.4L442.2 400.1L470 400.1L471.1 387.3L485 379.9L486.4 347.2L502.7 327L510.1 309.5Z" fill="#f57b4e"/>
<path d="M626.3 319.2L617.4 325.1L619.6 334.8L626.3 338.7Z" fill="#f57b4e"/>
<path d="M379.6 379.9L381.2 400.1L381.6 425.4L387.9 455.6L394.4 473.3L401.8 485.3L419.5 495.8L428.3 500.9L444.6 505L462.4 504L470 503L482.6 495.8L492 484.5L506.6 478.7L514 467.6L535.5 471.9L545.6 490.8L559.3 511L565.8 508.5L575.6 498.4L585.7 494.7L603.5 482.8L607.3 484.5L617.4 500.9L626.3 512.4L626.3 523.5L379.6 523.5Z" fill="#de4535"/>
</g>
<g clip-path="url(#cq5)">
<use href="#mc" x="379.6" y="309.5"/>
<use href="#mc" x="402" y="309.5"/>
<use href="#mc" x="424.5" y="309.5"/>
<use href="#mc" x="446.9" y="309.5"/>
<use href="#mc" x="469.3" y="309.5"/>
<use href="#mc" x="491.8" y="309.5"/>
<use href="#mc" x="514.2" y="309.5"/>
<use href="#mc" x="536.6" y="309.5"/>
<use href="#mc" x="559" y="309.5"/>
<use href="#mc" x="581.5" y="309.5"/>
<use href="#mc" x="603.9" y="309.5"/>
<use href="#mc" x="626.3" y="309.5"/>
<use href="#mc" x="379.6" y="328.9"/>
<use href="#mc" x="402" y="328.9"/>
<use href="#mc" x="424.5" y="328.9"/>
<use href="#mc" x="446.9" y="328.9"/>
<use href="#mc" x="469.3" y="328.9"/>
<use href="#mc" x="491.8" y="328.9"/>
<use href="#mc" x="514.2" y="328.9"/>
<use href="#mc" x="536.6" y="328.9"/>
<use href="#mc" x="559" y="328.9"/>
<use href="#mc" x="581.5" y="328.9"/>
<use href="#mc" x="603.9" y="328.9"/>
<use href="#mc" x="626.3" y="328.9"/>
<use href="#mc" x="379.6" y="348.4"/>
<use href="#mc" x="402" y="348.4"/>
<use href="#mc" x="424.5" y="348.4"/>
<use href="#mc" x="446.9" y="348.4"/>
<use href="#mc" x="469.3" y="348.4"/>
<use href="#mc" x="491.8" y="348.4"/>
<use href="#mc" x="514.2" y="348.4"/>
<use href="#mc" x="536.6" y="348.4"/>
<use href="#mc" x="559" y="348.4"/>
<use href="#mc" x="581.5" y="348.4"/>
<use href="#mc" x="603.9" y="348.4"/>
<use href="#mc" x="626.3" y="348.4"/>
<use href="#mc" x="379.6" y="367.9"/>
<use href="#mc" x="402" y="367.9"/>
<use href="#mc" x="424.5" y="367.9"/>
<use href="#mc" x="446.9" y="367.9"/>
<use href="#mc" x="469.3" y="367.9"/>
<use href="#mc" x="491.8" y="367.9"/>
<use href="#mc" x="514.2" y="367.9"/>
<use href="#mc" x="536.6" y="367.9"/>
<use href="#mc" x="559" y="367.9"/>
<use href="#mc" x="581.5" y="367.9"/>
<use href="#mc" x="603.9" y="367.9"/>
<use href="#mc" x="626.3" y="367.9"/>
<use href="#mc" x="379.6" y="387.3"/>
<use href="#mc" x="402" y="387.3"/>
<use href="#mc" x="424.5" y="387.3"/>
<use href="#mc" x="446.9" y="387.3"/>
<use href="#mc" x="469.3" y="387.3"/>
<use href="#mc" x="491.8" y="387.3"/>
<use href="#mc" x="514.2" y="387.3"/>
<use href="#mc" x="536.6" y="387.3"/>
<use href="#mc" x="559" y="387.3"/>
<use href="#mc" x="581.5" y="387.3"/>
<use href="#mc" x="603.9" y="387.3"/>
<use href="#mc" x="626.3" y="387.3"/>
<use href="#mc" x="379.6" y="406.8"/>
<use href="#mc" x="402" y="406.8"/>
<use href="#mc" x="424.5" y="406.8"/>
<use href="#mc" x="446.9" y="406.8"/>
<use href="#mc" x="469.3" y="406.8"/>
<use href="#mc" x="491.8" y="406.8"/>
<use href="#mc" x="514.2" y="406.8"/>
<use href="#mc" x="536.6" y="406.8"/>
<use href="#mc" x="559" y="406.8"/>
<use href="#mc" x="581.5" y="406.8"/>
<use href="#mc" x="603.9" y="406.8"/>
<use href="#mc" x="626.3" y="406.8"/>
<use href="#mc" x="379.6" y="426.2"/>
<use href="#mc" x="402" y="426.2"/>
<use href="#mc" x="424.5" y="426.2"/>
<use href="#mc" x="446.9" y="426.2"/>
<use href="#mc" x="469.3" y="426.2"/>
<use href="#mc" x="491.8" y="426.2"/>
<use href="#mc" x="514.2" y="426.2"/>
<use href="#mc" x="536.6" y="426.2"/>
<use href="#mc" x="559" y="426.2"/>
<use href="#mc" x="581.5" y="426.2"/>
<use href="#mc" x="603.9" y="426.2"/>
<use href="#mc" x="626.3" y="426.2"/>
<use href="#mc" x="379.6" y="445.6"/>
<use href="#mc" x="402" y="445.6"/>
<use href="#mc" x="424.5" y="445.6"/>
<use href="#mc" x="446.9" y="445.6"/>
<use href="#mc" x="469.3" y="445.6"/>
<use href="#mc" x="491.8" y="445.6"/>
<use href="#mc" x="514.2" y="445.6"/>
<use href="#mc" x="536.6" y="445.6"/>
<use href="#mc" x="559" y="445.6"/>
<use href="#mc" x="581.5" y="445.6"/>
<use href="#mc" x="603.9" y="445.6"/>
<use href="#mc" x="626.3" y="445.6"/>
<use href="#mc" x="379.6" y="465.1"/>
<use href="#mc" x="402" y="465.1"/>
<use href="#mc" x="424.5" y="465.1"/>
<use href="#mc" x="446.9" y="465.1"/>
<use href="#mc" x="469.3" y="465.1"/>
<use href="#mc" x="491.8" y="465.1"/>
<use href="#mc" x="514.2" y="465.1"/>
<use href="#mc" x="536.6" y="465.1"/>
<use href="#mc" x="559" y="465.1"/>
<use href="#mc" x="581.5" y="465.1"/>
<use href="#mc" x="603.9" y="465.1"/>
<use href="#mc" x="626.3" y="465.1"/>
<use href="#mc" x="379.6" y="484.5"/>
<use href="#mc" x="402" y="484.5"/>
<use href="#mc" x="424.5" y="484.5"/>
<use href="#mc" x="446.9" y="484.5"/>
<use href="#mc" x="469.3" y="484.5"/>
<use href="#mc" x="491.8" y="484.5"/>
<use href="#mc" x="514.2" y="484.5"/>
<use href="#mc" x="536.6" y="484.5"/>
<use href="#mc" x="559" y="484.5"/>
<use href="#mc" x="581.5" y="484.5"/>
<use href="#mc" x="603.9" y="484.5"/>
<use href="#mc" x="626.3" y="484.5"/>
<use href="#mc" x="379.6" y="504"/>
<use href="#mc" x="402" y="504"/>
<use href="#mc" x="424.5" y="504"/>
<use href="#mc" x="446.9" y="504"/>
<use href="#mc" x="469.3" y="504"/>
<use href="#mc" x="491.8" y="504"/>
<use href="#mc" x="514.2" y="504"/>
<use href="#mc" x="536.6" y="504"/>
<use href="#mc" x="559" y="504"/>
<use href="#mc" x="581.5" y="504"/>
<use href="#mc" x="603.9" y="504"/>
<use href="#mc" x="626.3" y="504"/>
<use href="#mc" x="379.6" y="523.5"/>
<use href="#mc" x="402" y="523.5"/>
<use href="#mc" x="424.5" y="523.5"/>
<use href="#mc" x="446.9" y="523.5"/>
<use href="#mc" x="469.3" y="523.5"/>
<use href="#mc" x="491.8" y="523.5"/>
<use href="#mc" x="514.2" y="523.5"/>
<use href="#mc" x="536.6" y="523.5"/>
<use href="#mx" x="559" y="523.5"/>
<use href="#mx" x="581.5" y="523.5"/>
<use href="#mx" x="603.9" y="523.5"/>
<use href="#mx" x="626.3" y="523.5"/>
<path d="M379.6 379.9L381.2 400.1L381.6 425.4L387.9 455.6L394.4 473.3L401.8 485.3L419.5 495.8L430.5 500.5" fill="none" stroke="#0a0a0a" stroke-width="3" stroke-linejoin="round" stroke-linecap="butt"/>
<path d="M462.1 504L470 503L482.6 495.8L492 484.5L506.6 478.7L514 467.6L535.5 471.9L545.6 490.8L559.3 511L565.8 508.5L575.6 498.4L585.7 494.7L603.5 482.8L607.3 484.5L617.4 500.9L626.3 512.4" fill="none" stroke="#0a0a0a" stroke-width="3" stroke-linejoin="round" stroke-linecap="butt"/>
</g>
<g clip-path="url(#cl5)">
<text x="0" y="7.1" transform="translate(444.4 505.6) rotate(14) skewX(-14)" font-size="20.14" text-anchor="middle" fill="#0a0a0a" stroke="#0a0a0a" stroke-width="0.45">0.8</text>
</g>
<rect x="377.4" y="308" width="250.8" height="217" fill="none" stroke="#0a0a0a" stroke-width="1.6"/>
<text x="502.8" y="298.8" font-size="19.3" text-anchor="middle" textLength="149.5" lengthAdjust="spacingAndGlyphs" fill="#111">East Siberian Sea</text>
<text x="377.5" y="544.8" font-size="19" text-anchor="middle" fill="#111">J</text>
<text x="400.3" y="544.8" font-size="19" text-anchor="middle" fill="#111">F</text>
<text x="423.1" y="544.8" font-size="19" text-anchor="middle" fill="#111">M</text>
<text x="445.9" y="544.8" font-size="19" text-anchor="middle" fill="#111">A</text>
<text x="468.7" y="544.8" font-size="19" text-anchor="middle" fill="#111">M</text>
<text x="491.5" y="544.8" font-size="19" text-anchor="middle" fill="#111">J</text>
<text x="514.3" y="544.8" font-size="19" text-anchor="middle" fill="#111">J</text>
<text x="537.1" y="544.8" font-size="19" text-anchor="middle" fill="#111">A</text>
<text x="559.9" y="544.8" font-size="19" text-anchor="middle" fill="#111">S</text>
<text x="582.7" y="544.8" font-size="19" text-anchor="middle" fill="#111">O</text>
<text x="605.5" y="544.8" font-size="19" text-anchor="middle" fill="#111">N</text>
<text x="628.3" y="544.8" font-size="19" text-anchor="middle" fill="#111">D</text>
<text x="368" y="314.9" font-size="19.5" text-anchor="end" fill="#111">12</text>
<text x="368" y="334.6" font-size="19.5" text-anchor="end" fill="#111">11</text>
<text x="368" y="354.4" font-size="19.5" text-anchor="end" fill="#111">10</text>
<text x="368" y="374.1" font-size="19.5" text-anchor="end" fill="#111">9</text>
<text x="368" y="393.8" font-size="19.5" text-anchor="end" fill="#111">8</text>
<text x="368" y="413.5" font-size="19.5" text-anchor="end" fill="#111">7</text>
<text x="368" y="433.3" font-size="19.5" text-anchor="end" fill="#111">6</text>
<text x="368" y="453" font-size="19.5" text-anchor="end" fill="#111">5</text>
<text x="368" y="472.7" font-size="19.5" text-anchor="end" fill="#111">4</text>
<text x="368" y="492.4" font-size="19.5" text-anchor="end" fill="#111">3</text>
<text x="368" y="512.2" font-size="19.5" text-anchor="end" fill="#111">2</text>
<text x="368" y="531.9" font-size="19.5" text-anchor="end" fill="#111">1</text>
</g>
<g>
<clipPath id="cp6"><rect x="693.4" y="309.2" width="247.3" height="214.5"/></clipPath>
<clipPath id="cl6"><rect x="692.2" y="308" width="249.7" height="216.9"/></clipPath>
<clipPath id="cq6"><rect x="691.5" y="308" width="250.8" height="217"/></clipPath>
<g clip-path="url(#cp6)">
<rect x="693.7" y="309.5" width="246.7" height="213.9" fill="#ec6142"/>
<path d="M846.2 309.5L850.7 309.5L873.1 309.5L887.2 309.5L887.2 329L887.2 348.4L886 367.9L882.8 387.3L880.6 406.8L873.1 426.2L873.1 426.2L873.1 426.2L864.2 406.8L859.7 387.3L855.2 367.9L850.7 348.4L850.7 348.4L847.5 328.9L846.2 309.5Z" fill="#f9975c" stroke="#f9975c" stroke-width="0.5" fill-rule="evenodd"/>
<path d="M772.2 309.5L783.4 309.5L794.6 309.5L805.8 319.2L817.1 309.5L828.3 309.5L846.2 309.5L847.5 328.9L850.7 348.4L850.7 348.4L855.2 367.9L859.7 387.3L864.2 406.8L873.1 426.2L873.1 426.2L873.1 426.2L880.6 406.8L882.8 387.3L886 367.9L887.2 348.4L887.2 328.9L887.2 309.5L895.6 309.5L913 309.5L913 329L913 348.4L913 367.9L912.4 387.3L912.4 406.8L911.6 426.2L908.4 445.6L901.7 465.1L898.8 484.5L898.8 504L895.6 523.5L895.6 523.5L873.1 523.5L861.9 523.5L850.7 504L850.7 504L845.1 484.5L839.5 465.1L834.7 445.6L828.3 432.7L820.8 426.2L805.9 406.8L805.8 406.8L783.4 387.3L783.4 387.3L761 380.8L749.8 387.3L738.6 393.8L734.1 387.3L734.1 367.9L738.6 361.4L761 348.4L761 348.4L772.2 328.9L772.2 309.5Z" fill="#f57b4e" stroke="#f57b4e" stroke-width="0.5" fill-rule="evenodd"/>
<path d="M693.7 309.5L716.1 309.5L738.6 309.5L761 309.5L772.2 309.5L772.2 328.9L761 348.4L761 348.4L738.6 361.4L734.1 367.9L734.1 387.3L738.6 393.8L749.8 387.3L761 380.8L783.4 387.3L783.4 387.3L805.8 406.8L805.9 406.8L820.8 426.2L828.3 432.7L834.7 445.6L839.5 465.1L845.1 484.5L850.7 504L850.7 504L861.9 523.5L850.7 523.5L830.8 523.5L828.3 517L819.3 504L805.9 484.6L783.4 489.4L761 494.3L746 504L738.6 508.9L716.1 508.9L693.7 510.5L693.7 504L693.7 484.5L693.7 465.1L693.7 445.6L693.7 426.2L693.7 406.8L693.7 387.3L693.7 367.9L693.7 348.4L693.7 328.9L693.7 309.5ZM794.6 309.5L805.9 309.5L817.1 309.5L805.9 319.2L794.6 309.5ZM913 309.5L918 309.5L940.4 309.5L940.4 328.9L940.4 348.4L940.4 367.9L940.4 387.3L940.4 406.8L940.4 426.2L940.4 445.6L940.4 450.5L927 465.1L918 474.8L914.8 484.5L914.8 504L916 523.5L895.6 523.5L898.8 504L898.8 484.5L901.7 465.1L908.4 445.6L911.6 426.2L912.4 406.8L912.4 387.3L913 367.9L913 348.4L913 328.9L913 309.5Z" fill="#ec6142" stroke="#ec6142" stroke-width="0.5" fill-rule="evenodd"/>
<path d="M927 465.1L940.4 450.5L940.4 465.1L940.4 484.5L940.4 504L940.4 523.5L918 523.5L916 523.5L914.8 504L914.8 484.5L918 474.8L927 465.1ZM746 504L761 494.3L783.4 489.4L805.9 484.5L819.3 504L828.3 517L830.8 523.5L828.3 523.5L805.9 523.5L783.4 523.5L761 523.5L738.6 523.5L716.1 523.5L693.7 523.5L693.7 510.5L716.1 508.9L738.6 508.9L746 504Z" fill="#de4535" stroke="#de4535" stroke-width="0.5" fill-rule="evenodd"/>
</g>
<g clip-path="url(#cq6)">
<use href="#mc" x="693.7" y="309.5"/>
<use href="#mc" x="716.1" y="309.5"/>
<use href="#mc" x="738.6" y="309.5"/>
<use href="#mc" x="761" y="309.5"/>
<use href="#mc" x="783.4" y="309.5"/>
<use href="#mc" x="805.9" y="309.5"/>
<use href="#mc" x="828.3" y="309.5"/>
<use href="#mc" x="850.7" y="309.5"/>
<use href="#mc" x="873.1" y="309.5"/>
<use href="#mc" x="895.6" y="309.5"/>
<use href="#mc" x="918" y="309.5"/>
<use href="#mc" x="940.4" y="309.5"/>
<use href="#mc" x="693.7" y="328.9"/>
<use href="#mc" x="716.1" y="328.9"/>
<use href="#mc" x="738.6" y="328.9"/>
<use href="#mc" x="761" y="328.9"/>
<use href="#mc" x="783.4" y="328.9"/>
<use href="#mc" x="805.9" y="328.9"/>
<use href="#mc" x="828.3" y="328.9"/>
<use href="#mc" x="850.7" y="328.9"/>
<use href="#mc" x="873.1" y="328.9"/>
<use href="#mc" x="895.6" y="328.9"/>
<use href="#mc" x="918" y="328.9"/>
<use href="#mc" x="940.4" y="328.9"/>
<use href="#mc" x="693.7" y="348.4"/>
<use href="#mc" x="716.1" y="348.4"/>
<use href="#mc" x="738.6" y="348.4"/>
<use href="#mc" x="761" y="348.4"/>
<use href="#mc" x="783.4" y="348.4"/>
<use href="#mc" x="805.9" y="348.4"/>
<use href="#mc" x="828.3" y="348.4"/>
<use href="#mc" x="850.7" y="348.4"/>
<use href="#mc" x="873.1" y="348.4"/>
<use href="#mc" x="895.6" y="348.4"/>
<use href="#mc" x="918" y="348.4"/>
<use href="#mc" x="940.4" y="348.4"/>
<use href="#mc" x="693.7" y="367.9"/>
<use href="#mc" x="716.1" y="367.9"/>
<use href="#mc" x="738.6" y="367.9"/>
<use href="#mc" x="761" y="367.9"/>
<use href="#mc" x="783.4" y="367.9"/>
<use href="#mc" x="805.9" y="367.9"/>
<use href="#mc" x="828.3" y="367.9"/>
<use href="#mc" x="850.7" y="367.9"/>
<use href="#mc" x="873.1" y="367.9"/>
<use href="#mc" x="895.6" y="367.9"/>
<use href="#mc" x="918" y="367.9"/>
<use href="#mc" x="940.4" y="367.9"/>
<use href="#mc" x="693.7" y="387.3"/>
<use href="#mc" x="716.1" y="387.3"/>
<use href="#mc" x="738.6" y="387.3"/>
<use href="#mc" x="761" y="387.3"/>
<use href="#mc" x="783.4" y="387.3"/>
<use href="#mc" x="805.9" y="387.3"/>
<use href="#mc" x="828.3" y="387.3"/>
<use href="#mc" x="850.7" y="387.3"/>
<use href="#mc" x="873.1" y="387.3"/>
<use href="#mc" x="895.6" y="387.3"/>
<use href="#mc" x="918" y="387.3"/>
<use href="#mc" x="940.4" y="387.3"/>
<use href="#mc" x="693.7" y="406.8"/>
<use href="#mc" x="716.1" y="406.8"/>
<use href="#mc" x="738.6" y="406.8"/>
<use href="#mc" x="761" y="406.8"/>
<use href="#mc" x="783.4" y="406.8"/>
<use href="#mc" x="805.9" y="406.8"/>
<use href="#mc" x="828.3" y="406.8"/>
<use href="#mc" x="850.7" y="406.8"/>
<use href="#mc" x="873.1" y="406.8"/>
<use href="#mc" x="895.6" y="406.8"/>
<use href="#mc" x="918" y="406.8"/>
<use href="#mc" x="940.4" y="406.8"/>
<use href="#mc" x="693.7" y="426.2"/>
<use href="#mc" x="716.1" y="426.2"/>
<use href="#mc" x="738.6" y="426.2"/>
<use href="#mc" x="761" y="426.2"/>
<use href="#mc" x="783.4" y="426.2"/>
<use href="#mc" x="805.9" y="426.2"/>
<use href="#mc" x="828.3" y="426.2"/>
<use href="#mc" x="850.7" y="426.2"/>
<use href="#mc" x="873.1" y="426.2"/>
<use href="#mc" x="895.6" y="426.2"/>
<use href="#mc" x="918" y="426.2"/>
<use href="#mc" x="940.4" y="426.2"/>
<use href="#mc" x="693.7" y="445.6"/>
<use href="#mc" x="716.1" y="445.6"/>
<use href="#mc" x="738.6" y="445.6"/>
<use href="#mc" x="761" y="445.6"/>
<use href="#mc" x="783.4" y="445.6"/>
<use href="#mc" x="805.9" y="445.6"/>
<use href="#mc" x="828.3" y="445.6"/>
<use href="#mc" x="850.7" y="445.6"/>
<use href="#mc" x="873.1" y="445.6"/>
<use href="#mc" x="895.6" y="445.6"/>
<use href="#mc" x="918" y="445.6"/>
<use href="#mc" x="940.4" y="445.6"/>
<use href="#mc" x="693.7" y="465.1"/>
<use href="#mc" x="716.1" y="465.1"/>
<use href="#mc" x="738.6" y="465.1"/>
<use href="#mc" x="761" y="465.1"/>
<use href="#mc" x="783.4" y="465.1"/>
<use href="#mc" x="805.9" y="465.1"/>
<use href="#mc" x="828.3" y="465.1"/>
<use href="#mc" x="850.7" y="465.1"/>
<use href="#mc" x="873.1" y="465.1"/>
<use href="#mc" x="895.6" y="465.1"/>
<use href="#mc" x="918" y="465.1"/>
<use href="#mc" x="940.4" y="465.1"/>
<use href="#mc" x="693.7" y="484.5"/>
<use href="#mc" x="716.1" y="484.5"/>
<use href="#mc" x="738.6" y="484.5"/>
<use href="#mc" x="761" y="484.5"/>
<use href="#mc" x="783.4" y="484.5"/>
<use href="#mc" x="805.9" y="484.5"/>
<use href="#mc" x="828.3" y="484.5"/>
<use href="#mc" x="850.7" y="484.5"/>
<use href="#mc" x="873.1" y="484.5"/>
<use href="#mc" x="895.6" y="484.5"/>
<use href="#mc" x="918" y="484.5"/>
<use href="#mc" x="940.4" y="484.5"/>
<use href="#mc" x="693.7" y="504"/>
<use href="#mc" x="716.1" y="504"/>
<use href="#mc" x="738.6" y="504"/>
<use href="#mc" x="761" y="504"/>
<use href="#mc" x="783.4" y="504"/>
<use href="#mc" x="805.9" y="504"/>
<use href="#mc" x="828.3" y="504"/>
<use href="#mx" x="850.7" y="504"/>
<use href="#mc" x="873.1" y="504"/>
<use href="#mc" x="895.6" y="504"/>
<use href="#mc" x="918" y="504"/>
<use href="#mc" x="940.4" y="504"/>
<use href="#mc" x="693.7" y="523.5"/>
<use href="#mc" x="716.1" y="523.5"/>
<use href="#mx" x="738.6" y="523.5"/>
<use href="#mc" x="761" y="523.5"/>
<use href="#mc" x="783.4" y="523.5"/>
<use href="#mc" x="805.9" y="523.5"/>
<use href="#mc" x="828.3" y="523.5"/>
<use href="#mx" x="850.7" y="523.5"/>
<use href="#mx" x="873.1" y="523.5"/>
<use href="#mx" x="895.6" y="523.5"/>
<use href="#mc" x="918" y="523.5"/>
<use href="#mc" x="940.4" y="523.5"/>
<path d="M844.4 309.5L845.8 329.5L848.2 349.8L852.1 362.4L858.3 368.6L862.1 383.8" fill="none" stroke="#0a0a0a" stroke-width="3" stroke-linejoin="round" stroke-linecap="butt"/>
<path d="M868.4 412.8L872.7 422.9L876.1 410.3L878.5 382.4L879.9 372.3L882.3 359.9L878.5 349.8L882.3 324.5L886.1 309.5" fill="none" stroke="#0a0a0a" stroke-width="3" stroke-linejoin="round" stroke-linecap="butt"/>
<path d="M693.7 513.5L700.9 509.8L715.9 509.8L737.4 508.5L750 503.4" fill="none" stroke="#0a0a0a" stroke-width="3" stroke-linejoin="round" stroke-linecap="butt"/>
<path d="M778.9 493.5L794.2 493.5L799.8 478.9L806.1 477.5L813.9 484.5L830.3 521.5L831.9 524.4" fill="none" stroke="#0a0a0a" stroke-width="3" stroke-linejoin="round" stroke-linecap="butt"/>
<path d="M940.4 435.3L935.3 445.5L929 446.8L927.6 456.9L917.6 458.1L916.4 470.7" fill="none" stroke="#0a0a0a" stroke-width="3" stroke-linejoin="round" stroke-linecap="butt"/>
<path d="M915.1 498.4L913.7 511L911.3 523.5" fill="none" stroke="#0a0a0a" stroke-width="3" stroke-linejoin="round" stroke-linecap="butt"/>
</g>
<g clip-path="url(#cl6)">
<text x="0" y="6.6" transform="translate(863 398) rotate(85)" font-size="18.55" text-anchor="middle" fill="#0a0a0a" stroke="#0a0a0a" stroke-width="0.45">0.6</text>
<text x="0" y="6.6" transform="translate(762.3 494.1) rotate(-22)" font-size="18.55" text-anchor="middle" fill="#0a0a0a" stroke="#0a0a0a" stroke-width="0.45">0.8</text>
<text x="0" y="6.6" transform="translate(916.9 484.5) rotate(88)" font-size="18.55" text-anchor="middle" fill="#0a0a0a" stroke="#0a0a0a" stroke-width="0.45">0.8</text>
</g>
<rect x="691.5" y="308" width="250.8" height="217" fill="none" stroke="#0a0a0a" stroke-width="1.6"/>
<text x="816.9" y="298.8" font-size="19.3" text-anchor="middle" textLength="107.6" lengthAdjust="spacingAndGlyphs" fill="#111">Chukchi Sea</text>
<text x="691.6" y="544.8" font-size="19" text-anchor="middle" fill="#111">J</text>
<text x="714.4" y="544.8" font-size="19" text-anchor="middle" fill="#111">F</text>
<text x="737.2" y="544.8" font-size="19" text-anchor="middle" fill="#111">M</text>
<text x="760" y="544.8" font-size="19" text-anchor="middle" fill="#111">A</text>
<text x="782.8" y="544.8" font-size="19" text-anchor="middle" fill="#111">M</text>
<text x="805.6" y="544.8" font-size="19" text-anchor="middle" fill="#111">J</text>
<text x="828.4" y="544.8" font-size="19" text-anchor="middle" fill="#111">J</text>
<text x="851.2" y="544.8" font-size="19" text-anchor="middle" fill="#111">A</text>
<text x="874" y="544.8" font-size="19" text-anchor="middle" fill="#111">S</text>
<text x="896.8" y="544.8" font-size="19" text-anchor="middle" fill="#111">O</text>
<text x="919.6" y="544.8" font-size="19" text-anchor="middle" fill="#111">N</text>
<text x="942.4" y="544.8" font-size="19" text-anchor="middle" fill="#111">D</text>
<text x="682.1" y="314.9" font-size="19.5" text-anchor="end" fill="#111">12</text>
<text x="682.1" y="334.6" font-size="19.5" text-anchor="end" fill="#111">11</text>
<text x="682.1" y="354.4" font-size="19.5" text-anchor="end" fill="#111">10</text>
<text x="682.1" y="374.1" font-size="19.5" text-anchor="end" fill="#111">9</text>
<text x="682.1" y="393.8" font-size="19.5" text-anchor="end" fill="#111">8</text>
<text x="682.1" y="413.5" font-size="19.5" text-anchor="end" fill="#111">7</text>
<text x="682.1" y="433.3" font-size="19.5" text-anchor="end" fill="#111">6</text>
<text x="682.1" y="453" font-size="19.5" text-anchor="end" fill="#111">5</text>
<text x="682.1" y="472.7" font-size="19.5" text-anchor="end" fill="#111">4</text>
<text x="682.1" y="492.4" font-size="19.5" text-anchor="end" fill="#111">3</text>
<text x="682.1" y="512.2" font-size="19.5" text-anchor="end" fill="#111">2</text>
<text x="682.1" y="531.9" font-size="19.5" text-anchor="end" fill="#111">1</text>
</g>
<g>
<clipPath id="cp7"><rect x="1007.5" y="309.2" width="247.3" height="214.5"/></clipPath>
<clipPath id="cl7"><rect x="1006.3" y="308" width="249.7" height="216.9"/></clipPath>
<clipPath id="cq7"><rect x="1005.6" y="308" width="250.8" height="217"/></clipPath>
<g clip-path="url(#cp7)">
<rect x="1007.8" y="309.5" width="246.7" height="213.9" fill="#ec6142"/>
<path d="M1078 309.5L1080.5 324.5L1090.6 339.6L1108.3 347.2L1128.2 342.2L1146 332.1L1158.5 309.5Z" fill="#f57b4e"/>
<path d="M1183.9 309.5L1189.5 319.2L1196.4 309.5Z" fill="#f57b4e"/>
<path d="M1007.8 393.9L1009.8 407.7L1022.6 425.4L1028.9 440.4L1030 465.7L1054 483.4L1057.8 500.9L1060.3 504.8L1072.8 507.9L1088.1 502.2L1088.5 496.4L1113.2 498L1130.9 492.1L1146 484.5L1156.1 477L1164.8 461.8L1188.8 465.7L1210.3 470.7L1216.6 460.6L1229.2 442.9L1233 429.1L1254.5 432.8L1254.5 523.5L1007.8 523.5Z" fill="#de4535"/>
</g>
<g clip-path="url(#cq7)">
<use href="#mc" x="1007.8" y="309.5"/>
<use href="#mc" x="1030.2" y="309.5"/>
<use href="#mc" x="1052.7" y="309.5"/>
<use href="#mc" x="1075.1" y="309.5"/>
<use href="#mc" x="1097.5" y="309.5"/>
<use href="#mc" x="1120" y="309.5"/>
<use href="#mc" x="1142.4" y="309.5"/>
<use href="#mc" x="1164.8" y="309.5"/>
<use href="#mc" x="1187.2" y="309.5"/>
<use href="#mc" x="1209.7" y="309.5"/>
<use href="#mc" x="1232.1" y="309.5"/>
<use href="#mc" x="1254.5" y="309.5"/>
<use href="#mc" x="1007.8" y="328.9"/>
<use href="#mc" x="1030.2" y="328.9"/>
<use href="#mc" x="1052.7" y="328.9"/>
<use href="#mc" x="1075.1" y="328.9"/>
<use href="#mc" x="1097.5" y="328.9"/>
<use href="#mc" x="1120" y="328.9"/>
<use href="#mc" x="1142.4" y="328.9"/>
<use href="#mc" x="1164.8" y="328.9"/>
<use href="#mc" x="1187.2" y="328.9"/>
<use href="#mc" x="1209.7" y="328.9"/>
<use href="#mc" x="1232.1" y="328.9"/>
<use href="#mc" x="1254.5" y="328.9"/>
<use href="#mc" x="1007.8" y="348.4"/>
<use href="#mc" x="1030.2" y="348.4"/>
<use href="#mc" x="1052.7" y="348.4"/>
<use href="#mc" x="1075.1" y="348.4"/>
<use href="#mc" x="1097.5" y="348.4"/>
<use href="#mc" x="1120" y="348.4"/>
<use href="#mc" x="1142.4" y="348.4"/>
<use href="#mc" x="1164.8" y="348.4"/>
<use href="#mc" x="1187.2" y="348.4"/>
<use href="#mc" x="1209.7" y="348.4"/>
<use href="#mc" x="1232.1" y="348.4"/>
<use href="#mc" x="1254.5" y="348.4"/>
<use href="#mc" x="1007.8" y="367.9"/>
<use href="#mc" x="1030.2" y="367.9"/>
<use href="#mc" x="1052.7" y="367.9"/>
<use href="#mc" x="1075.1" y="367.9"/>
<use href="#mc" x="1097.5" y="367.9"/>
<use href="#mc" x="1120" y="367.9"/>
<use href="#mc" x="1142.4" y="367.9"/>
<use href="#mc" x="1164.8" y="367.9"/>
<use href="#mc" x="1187.2" y="367.9"/>
<use href="#mc" x="1209.7" y="367.9"/>
<use href="#mc" x="1232.1" y="367.9"/>
<use href="#mc" x="1254.5" y="367.9"/>
<use href="#mc" x="1007.8" y="387.3"/>
<use href="#mc" x="1030.2" y="387.3"/>
<use href="#mc" x="1052.7" y="387.3"/>
<use href="#mc" x="1075.1" y="387.3"/>
<use href="#mc" x="1097.5" y="387.3"/>
<use href="#mc" x="1120" y="387.3"/>
<use href="#mc" x="1142.4" y="387.3"/>
<use href="#mc" x="1164.8" y="387.3"/>
<use href="#mc" x="1187.2" y="387.3"/>
<use href="#mc" x="1209.7" y="387.3"/>
<use href="#mc" x="1232.1" y="387.3"/>
<use href="#mc" x="1254.5" y="387.3"/>
<use href="#mc" x="1007.8" y="406.8"/>
<use href="#mc" x="1030.2" y="406.8"/>
<use href="#mc" x="1052.7" y="406.8"/>
<use href="#mc" x="1075.1" y="406.8"/>
<use href="#mc" x="1097.5" y="406.8"/>
<use href="#mc" x="1120" y="406.8"/>
<use href="#mc" x="1142.4" y="406.8"/>
<use href="#mc" x="1164.8" y="406.8"/>
<use href="#mc" x="1187.2" y="406.8"/>
<use href="#mc" x="1209.7" y="406.8"/>
<use href="#mc" x="1232.1" y="406.8"/>
<use href="#mc" x="1254.5" y="406.8"/>
<use href="#mc" x="1007.8" y="426.2"/>
<use href="#mc" x="1030.2" y="426.2"/>
<use href="#mc" x="1052.7" y="426.2"/>
<use href="#mc" x="1075.1" y="426.2"/>
<use href="#mc" x="1097.5" y="426.2"/>
<use href="#mc" x="1120" y="426.2"/>
<use href="#mc" x="1142.4" y="426.2"/>
<use href="#mc" x="1164.8" y="426.2"/>
<use href="#mc" x="1187.2" y="426.2"/>
<use href="#mc" x="1209.7" y="426.2"/>
<use href="#mc" x="1232.1" y="426.2"/>
<use href="#mc" x="1254.5" y="426.2"/>
<use href="#mc" x="1007.8" y="445.6"/>
<use href="#mc" x="1030.2" y="445.6"/>
<use href="#mc" x="1052.7" y="445.6"/>
<use href="#mc" x="1075.1" y="445.6"/>
<use href="#mc" x="1097.5" y="445.6"/>
<use href="#mc" x="1120" y="445.6"/>
<use href="#mc" x="1142.4" y="445.6"/>
<use href="#mc" x="1164.8" y="445.6"/>
<use href="#mc" x="1187.2" y="445.6"/>
<use href="#mc" x="1209.7" y="445.6"/>
<use href="#mc" x="1232.1" y="445.6"/>
<use href="#mc" x="1254.5" y="445.6"/>
<use href="#mc" x="1007.8" y="465.1"/>
<use href="#mc" x="1030.2" y="465.1"/>
<use href="#mc" x="1052.7" y="465.1"/>
<use href="#mc" x="1075.1" y="465.1"/>
<use href="#mc" x="1097.5" y="465.1"/>
<use href="#mc" x="1120" y="465.1"/>
<use href="#mc" x="1142.4" y="465.1"/>
<use href="#mc" x="1164.8" y="465.1"/>
<use href="#mc" x="1187.2" y="465.1"/>
<use href="#mc" x="1209.7" y="465.1"/>
<use href="#mc" x="1232.1" y="465.1"/>
<use href="#mc" x="1254.5" y="465.1"/>
<use href="#mc" x="1007.8" y="484.5"/>
<use href="#mc" x="1030.2" y="484.5"/>
<use href="#mc" x="1052.7" y="484.5"/>
<use href="#mc" x="1075.1" y="484.5"/>
<use href="#mc" x="1097.5" y="484.5"/>
<use href="#mc" x="1120" y="484.5"/>
<use href="#mc" x="1142.4" y="484.5"/>
<use href="#mc" x="1164.8" y="484.5"/>
<use href="#mc" x="1187.2" y="484.5"/>
<use href="#mc" x="1209.7" y="484.5"/>
<use href="#mc" x="1232.1" y="484.5"/>
<use href="#mc" x="1254.5" y="484.5"/>
<use href="#mc" x="1007.8" y="504"/>
<use href="#mc" x="1030.2" y="504"/>
<use href="#mc" x="1052.7" y="504"/>
<use href="#mc" x="1075.1" y="504"/>
<use href="#mc" x="1097.5" y="504"/>
<use href="#mc" x="1120" y="504"/>
<use href="#mc" x="1142.4" y="504"/>
<use href="#mc" x="1164.8" y="504"/>
<use href="#mc" x="1187.2" y="504"/>
<use href="#mc" x="1209.7" y="504"/>
<use href="#mc" x="1232.1" y="504"/>
<use href="#mc" x="1254.5" y="504"/>
<use href="#mx" x="1007.8" y="523.5"/>
<use href="#mc" x="1030.2" y="523.5"/>
<use href="#mx" x="1052.7" y="523.5"/>
<use href="#mc" x="1075.1" y="523.5"/>
<use href="#mc" x="1097.5" y="523.5"/>
<use href="#mc" x="1120" y="523.5"/>
<use href="#mx" x="1142.4" y="523.5"/>
<use href="#mx" x="1164.8" y="523.5"/>
<use href="#mx" x="1187.2" y="523.5"/>
<use href="#mx" x="1209.7" y="523.5"/>
<use href="#mx" x="1232.1" y="523.5"/>
<use href="#mc" x="1254.5" y="523.5"/>
<path d="M1007.8 393.9L1009.8 407.7L1022.6 425.4L1028.9 440.4L1030 465.7L1054 483.4L1057.8 500.9L1060.3 504.8" fill="none" stroke="#0a0a0a" stroke-width="3" stroke-linejoin="round" stroke-linecap="butt"/>
<path d="M1088.1 502.2L1088.5 496.4L1113.2 498L1130.9 492.1L1146 484.5L1156.1 477L1164.8 461.8L1188.8 465.7L1210.3 470.7L1216.6 460.6L1229.2 442.9L1233 429.1L1254.5 432.8" fill="none" stroke="#0a0a0a" stroke-width="3" stroke-linejoin="round" stroke-linecap="butt"/>
</g>
<g clip-path="url(#cl7)">
<text x="0" y="7.3" transform="translate(1076 511.2) rotate(6) skewX(-12)" font-size="20.67" text-anchor="middle" fill="#0a0a0a" stroke="#0a0a0a" stroke-width="0.45">0.8</text>
</g>
<rect x="1005.6" y="308" width="250.8" height="217" fill="none" stroke="#0a0a0a" stroke-width="1.6"/>
<text x="1131" y="298.8" font-size="19.3" text-anchor="middle" textLength="112.4" lengthAdjust="spacingAndGlyphs" fill="#111">Beaufort Sea</text>
<text x="1005.7" y="544.8" font-size="19" text-anchor="middle" fill="#111">J</text>
<text x="1028.5" y="544.8" font-size="19" text-anchor="middle" fill="#111">F</text>
<text x="1051.3" y="544.8" font-size="19" text-anchor="middle" fill="#111">M</text>
<text x="1074.1" y="544.8" font-size="19" text-anchor="middle" fill="#111">A</text>
<text x="1096.9" y="544.8" font-size="19" text-anchor="middle" fill="#111">M</text>
<text x="1119.7" y="544.8" font-size="19" text-anchor="middle" fill="#111">J</text>
<text x="1142.5" y="544.8" font-size="19" text-anchor="middle" fill="#111">J</text>
<text x="1165.3" y="544.8" font-size="19" text-anchor="middle" fill="#111">A</text>
<text x="1188.1" y="544.8" font-size="19" text-anchor="middle" fill="#111">S</text>
<text x="1210.9" y="544.8" font-size="19" text-anchor="middle" fill="#111">O</text>
<text x="1233.7" y="544.8" font-size="19" text-anchor="middle" fill="#111">N</text>
<text x="1256.5" y="544.8" font-size="19" text-anchor="middle" fill="#111">D</text>
<text x="996.2" y="314.9" font-size="19.5" text-anchor="end" fill="#111">12</text>
<text x="996.2" y="334.6" font-size="19.5" text-anchor="end" fill="#111">11</text>
<text x="996.2" y="354.4" font-size="19.5" text-anchor="end" fill="#111">10</text>
<text x="996.2" y="374.1" font-size="19.5" text-anchor="end" fill="#111">9</text>
<text x="996.2" y="393.8" font-size="19.5" text-anchor="end" fill="#111">8</text>
<text x="996.2" y="413.5" font-size="19.5" text-anchor="end" fill="#111">7</text>
<text x="996.2" y="433.3" font-size="19.5" text-anchor="end" fill="#111">6</text>
<text x="996.2" y="453" font-size="19.5" text-anchor="end" fill="#111">5</text>
<text x="996.2" y="472.7" font-size="19.5" text-anchor="end" fill="#111">4</text>
<text x="996.2" y="492.4" font-size="19.5" text-anchor="end" fill="#111">3</text>
<text x="996.2" y="512.2" font-size="19.5" text-anchor="end" fill="#111">2</text>
<text x="996.2" y="531.9" font-size="19.5" text-anchor="end" fill="#111">1</text>
</g>
<g>
<clipPath id="cp8"><rect x="65.2" y="587.9" width="247.3" height="214.5"/></clipPath>
<clipPath id="cl8"><rect x="64" y="586.7" width="249.7" height="216.9"/></clipPath>
<clipPath id="cq8"><rect x="63.3" y="586.7" width="250.8" height="217"/></clipPath>
<g clip-path="url(#cp8)">
<rect x="65.5" y="588.2" width="246.7" height="213.9" fill="#fedf93"/>
<path d="M174.3 588.2L177.7 588.2L200.1 588.2L208.8 588.2L209.3 607.6L210.5 627.1L212.3 646.5L216.1 666L216.4 685.4L215 704.9L213.5 724.3L211.3 743.8L203.8 763.2L200.1 769.7L198.2 763.2L194.9 743.8L194.9 724.3L193.7 704.9L193.7 685.4L189.9 666L183.3 646.5L177.7 633.6L176.6 627.1L175.1 607.6L174.3 588.2Z" fill="#fffcbd" stroke="#fffcbd" stroke-width="0.5" fill-rule="evenodd"/>
<path d="M166 588.2L174.3 588.2L175.1 607.6L176.6 627.1L177.7 633.6L183.3 646.5L189.9 666L193.7 685.4L193.7 704.9L194.9 724.3L194.9 743.8L198.2 763.2L200.1 769.7L203.8 763.2L211.3 743.8L213.5 724.3L215 704.9L216.4 685.4L216.1 666L212.3 646.5L210.5 627.1L209.3 607.6L208.8 588.2L221.3 588.2L222.5 607.6L228.1 588.2L244.9 588.2L267.4 588.2L289.8 588.2L312.2 588.2L312.2 597.9L289.8 603.8L286.6 607.6L286.6 627.1L287.3 646.5L287.8 666L287.8 685.4L287.3 704.9L286.6 724.3L286.6 743.8L282.3 763.2L273 782.7L267.4 802.1L267.4 802.1L267.4 802.1L264.2 782.7L262.9 763.2L260.6 743.8L259 724.3L252.4 704.9L244.9 697.1L240.5 704.9L236.3 724.3L233.7 743.8L231.1 763.2L230 782.7L227 802.1L222.5 802.1L200.1 802.1L196.3 802.1L185.1 782.7L179.5 763.2L177.7 743.8L177.6 743.8L177.7 724.3L177.7 704.9L177.7 685.4L170.7 666L165.7 646.5L165.9 627.1L166.4 607.6L166 588.2ZM244.9 619.3L233.7 627.1L244.9 634.9L253.9 627.1L244.9 619.3Z" fill="#feeea8" stroke="#feeea8" stroke-width="0.5" fill-rule="evenodd"/>
<path d="M65.5 588.2L87.9 588.2L101.9 588.2L101.9 607.6L104 627.1L110.4 640.1L113.6 646.5L116 666L115.3 685.5L114.8 704.9L110.4 724.3L110.4 724.4L99.1 743.8L87.9 754.9L74.5 763.2L65.5 766.5L65.5 763.2L65.5 743.8L65.5 724.3L65.5 704.9L65.5 685.4L65.5 666L65.5 646.5L65.5 627.1L65.5 607.6L65.5 588.2ZM157.7 588.2L166 588.2L166.4 607.6L165.9 627.1L165.7 646.5L170.7 666L177.7 685.4L177.6 704.9L177.6 724.3L177.6 743.8L177.7 743.8L179.5 763.2L185.1 782.7L196.3 802.1L177.7 802.1L177.6 802.1L170.6 782.7L167 763.2L164.5 743.8L162.7 724.3L160.4 704.9L159 685.4L155.2 672.5L152 666L147.7 646.5L155.2 627.1L155.2 627.1L157.8 607.6L157.7 588.2ZM221.3 588.2L222.5 588.2L228.1 588.2L222.5 607.6L221.3 588.2ZM286.6 607.6L289.8 603.8L312.2 597.9L312.2 607.6L312.2 627.1L312.2 646.5L312.2 666L312.2 685.4L312.2 704.9L312.2 724.3L312.2 743.8L312.2 763.2L312.2 782.7L312.2 789.2L294.3 802.1L289.8 802.1L267.4 802.1L273 782.7L282.3 763.2L286.6 743.8L286.6 724.3L287.3 704.9L287.8 685.4L287.8 666L287.3 646.5L286.6 627.1L286.6 607.6ZM233.7 627.1L244.9 619.3L253.9 627.1L244.9 634.9L233.7 627.1ZM240.5 704.9L244.9 697.1L252.4 704.9L259 724.3L260.6 743.8L262.9 763.2L264.2 782.7L267.4 802.1L244.9 802.1L227 802.1L230 782.7L231.1 763.2L233.7 743.8L236.3 724.3L240.5 704.9Z" fill="#fedf93" stroke="#fedf93" stroke-width="0.5" fill-rule="evenodd"/>
<path d="M101.9 588.2L110.4 588.2L132.8 588.2L155.2 588.2L157.7 588.2L157.8 607.6L155.2 627.1L155.2 627.1L147.7 646.5L152 666L155.2 672.5L159 685.4L160.4 704.9L162.7 724.3L164.5 743.8L167 763.2L170.6 782.7L177.7 802.1L166.4 802.1L158.8 782.7L155.2 763.2L155.2 763.2L144 743.8L132.8 724.3L125.3 743.8L110.4 763.2L110.4 763.2L87.9 775.6L65.5 782.7L65.5 782.7L65.5 782.7L65.5 766.5L74.5 763.2L87.9 754.9L99.1 743.8L110.4 724.4L110.4 724.3L114.8 704.9L115.3 685.4L116 666L113.6 646.5L110.4 640.1L104 627.1L101.9 607.6L101.9 588.2ZM294.3 802.1L312.2 789.2L312.2 802.1L294.3 802.1Z" fill="#feca7f" stroke="#feca7f" stroke-width="0.5" fill-rule="evenodd"/>
<path d="M125.3 743.8L132.8 724.4L144 743.8L155.2 763.2L155.2 763.2L158.8 782.7L166.4 802.1L155.2 802.1L155.2 802.1L132.8 785.5L110.4 787L87.9 795.7L78.3 802.1L65.5 802.1L65.5 782.7L65.5 782.7L87.9 775.6L110.4 763.2L110.4 763.2L125.3 743.8Z" fill="#fdb46a" stroke="#fdb46a" stroke-width="0.5" fill-rule="evenodd"/>
<path d="M78.3 802.1L87.9 795.7L110.4 787L132.8 785.5L155.2 802.1L132.8 802.1L110.4 802.1L87.9 802.1L78.3 802.1Z" fill="#f9975c" stroke="#f9975c" stroke-width="0.5" fill-rule="evenodd"/>
</g>
<g clip-path="url(#cq8)">
<use href="#mc" x="110.4" y="588.2"/>
<use href="#mc" x="132.8" y="588.2"/>
<use href="#mc" x="155.2" y="588.2"/>
<use href="#mc" x="110.4" y="607.6"/>
<use href="#mc" x="132.8" y="607.6"/>
<use href="#mc" x="155.2" y="607.6"/>
<use href="#mc" x="110.4" y="627.1"/>
<use href="#mc" x="132.8" y="627.1"/>
<use href="#mc" x="132.8" y="646.5"/>
<use href="#mc" x="132.8" y="666"/>
<use href="#mc" x="132.8" y="685.4"/>
<use href="#mc" x="155.2" y="685.4"/>
<use href="#mc" x="132.8" y="704.9"/>
<use href="#mc" x="155.2" y="704.9"/>
<use href="#mc" x="132.8" y="724.3"/>
<use href="#mc" x="155.2" y="724.3"/>
<use href="#mc" x="244.9" y="724.3"/>
<use href="#mc" x="132.8" y="743.8"/>
<use href="#mc" x="155.2" y="743.8"/>
<use href="#mc" x="244.9" y="743.8"/>
<use href="#mx" x="65.5" y="763.2"/>
<use href="#mc" x="87.9" y="763.2"/>
<use href="#mc" x="110.4" y="763.2"/>
<use href="#mc" x="132.8" y="763.2"/>
<use href="#mc" x="155.2" y="763.2"/>
<use href="#mc" x="244.9" y="763.2"/>
<use href="#mx" x="65.5" y="782.7"/>
<use href="#mx" x="87.9" y="782.7"/>
<use href="#mc" x="110.4" y="782.7"/>
<use href="#mc" x="132.8" y="782.7"/>
<use href="#mc" x="155.2" y="782.7"/>
<use href="#mc" x="244.9" y="782.7"/>
<use href="#mx" x="65.5" y="802.1"/>
<use href="#mx" x="87.9" y="802.1"/>
<use href="#mx" x="132.8" y="802.1"/>
<use href="#mx" x="155.2" y="802.1"/>
<use href="#mx" x="177.7" y="802.1"/>
<use href="#mx" x="312.2" y="802.1"/>
<path d="M65.5 786.4L85.2 783.1L109.2 764.6L123.4 754.3L123.4 751.8" fill="none" stroke="#0a0a0a" stroke-width="3" stroke-linejoin="round" stroke-linecap="butt"/>
<path d="M129.9 720.8L132.6 712.9L147.8 724.7L146.7 733.9L153 750.4L158.1 769.9L163.3 785.2L175 803.3" fill="none" stroke="#0a0a0a" stroke-width="3" stroke-linejoin="round" stroke-linecap="butt"/>
<path d="M132.6 588.2L132.6 604.9" fill="none" stroke="#0a0a0a" stroke-width="3.8" stroke-linecap="butt"/>
<path d="M97.8 801.2L115.5 801.2" fill="none" stroke="#0a0a0a" stroke-width="3.8" stroke-linecap="butt"/>
<path d="M244.9 757L244.9 769.5" fill="none" stroke="#0a0a0a" stroke-width="3.8" stroke-linecap="butt"/>
</g>
<g clip-path="url(#cl8)">
<text x="0" y="7.1" transform="translate(124.9 735) rotate(-65)" font-size="20.14" text-anchor="middle" fill="#0a0a0a" stroke="#0a0a0a" stroke-width="0.45">0.4</text>
</g>
<rect x="63.3" y="586.7" width="250.8" height="217" fill="none" stroke="#0a0a0a" stroke-width="1.6"/>
<text x="188.7" y="577.5" font-size="19.3" text-anchor="middle" textLength="134.1" lengthAdjust="spacingAndGlyphs" fill="#111">Sea of Okhotsk</text>
<text x="63.4" y="823.5" font-size="19" text-anchor="middle" fill="#111">J</text>
<text x="86.2" y="823.5" font-size="19" text-anchor="middle" fill="#111">F</text>
<text x="109" y="823.5" font-size="19" text-anchor="middle" fill="#111">M</text>
<text x="131.8" y="823.5" font-size="19" text-anchor="middle" fill="#111">A</text>
<text x="154.6" y="823.5" font-size="19" text-anchor="middle" fill="#111">M</text>
<text x="177.4" y="823.5" font-size="19" text-anchor="middle" fill="#111">J</text>
<text x="200.2" y="823.5" font-size="19" text-anchor="middle" fill="#111">J</text>
<text x="223" y="823.5" font-size="19" text-anchor="middle" fill="#111">A</text>
<text x="245.8" y="823.5" font-size="19" text-anchor="middle" fill="#111">S</text>
<text x="268.6" y="823.5" font-size="19" text-anchor="middle" fill="#111">O</text>
<text x="291.4" y="823.5" font-size="19" text-anchor="middle" fill="#111">N</text>
<text x="314.2" y="823.5" font-size="19" text-anchor="middle" fill="#111">D</text>
<text x="53.9" y="593.6" font-size="19.5" text-anchor="end" fill="#111">12</text>
<text x="53.9" y="613.3" font-size="19.5" text-anchor="end" fill="#111">11</text>
<text x="53.9" y="633.1" font-size="19.5" text-anchor="end" fill="#111">10</text>
<text x="53.9" y="652.8" font-size="19.5" text-anchor="end" fill="#111">9</text>
<text x="53.9" y="672.5" font-size="19.5" text-anchor="end" fill="#111">8</text>
<text x="53.9" y="692.2" font-size="19.5" text-anchor="end" fill="#111">7</text>
<text x="53.9" y="712" font-size="19.5" text-anchor="end" fill="#111">6</text>
<text x="53.9" y="731.7" font-size="19.5" text-anchor="end" fill="#111">5</text>
<text x="53.9" y="751.4" font-size="19.5" text-anchor="end" fill="#111">4</text>
<text x="53.9" y="771.1" font-size="19.5" text-anchor="end" fill="#111">3</text>
<text x="53.9" y="790.9" font-size="19.5" text-anchor="end" fill="#111">2</text>
<text x="53.9" y="810.6" font-size="19.5" text-anchor="end" fill="#111">1</text>
</g>
<g>
<clipPath id="cp9"><rect x="379.3" y="587.9" width="247.3" height="214.5"/></clipPath>
<clipPath id="cl9"><rect x="378.1" y="586.7" width="249.7" height="216.9"/></clipPath>
<clipPath id="cq9"><rect x="377.4" y="586.7" width="250.8" height="217"/></clipPath>
<g clip-path="url(#cp9)">
<rect x="379.6" y="588.2" width="246.7" height="213.9" fill="#fedf93"/>
<path d="M529.1 588.2L536.6 588.2L559 588.2L581.5 588.2L582.9 588.2L582.9 607.6L583.1 627.1L582.6 646.5L582.5 666L582.5 685.4L582.6 704.9L582.8 724.3L582.9 743.8L582.9 763.2L582.9 782.7L582.9 802.1L581.5 802.1L559 802.1L536.6 802.1L514.2 802.1L514.2 802.1L514.2 782.7L514.2 763.2L514.2 763.2L519.8 743.8L523.2 724.3L527.6 704.9L532.1 685.4L532.1 666L532.1 646.5L532.1 627.1L529.1 607.6L529.1 588.2Z" fill="#fffcbd" stroke="#fffcbd" stroke-width="0.5" fill-rule="evenodd"/>
<path d="M482.1 588.2L491.8 588.2L514.2 588.2L529.1 588.2L529.1 607.6L532.1 627.1L532.1 646.5L532.1 666L532.1 685.5L527.6 704.9L523.2 724.3L519.8 743.8L514.2 763.2L514.2 763.2L514.2 782.7L514.2 802.1L504 802.1L501.7 782.7L495.5 763.2L491.8 750.3L489.3 743.8L486.1 724.3L484.3 704.9L482.1 685.4L482.1 666L482.1 646.5L482.1 627.1L482.1 607.6L482.1 588.2ZM582.9 588.2L596.9 588.2L596.9 607.6L599.1 627.1L593.8 646.5L592.7 666L592.7 685.4L593.8 704.9L596 724.3L596.9 743.8L596.9 763.2L596.9 782.7L596.9 802.1L582.9 802.1L582.9 782.7L582.9 763.2L582.9 743.8L582.8 724.3L582.6 704.9L582.5 685.4L582.5 666L582.6 646.5L583.1 627.1L582.9 607.6L582.9 588.2ZM617.9 588.2L626.3 588.2L626.3 607.6L626.3 627.1L626.3 629.9L620.7 627.1L619.9 607.6L617.9 588.2Z" fill="#feeea8" stroke="#feeea8" stroke-width="0.5" fill-rule="evenodd"/>
<path d="M379.6 588.2L402 588.2L424.5 588.2L428.4 588.2L428.4 607.6L428.4 627.1L428.4 646.5L428.4 666L428.4 685.4L430.1 704.9L431.9 724.3L431.2 743.8L424.5 763.2L424.5 763.2L402 782.7L402 782.7L379.6 792.4L379.6 782.7L379.6 763.2L379.6 743.8L379.6 724.3L379.6 704.9L379.6 685.4L379.6 666L379.6 646.5L379.6 627.1L379.6 607.6L379.6 588.2ZM459 588.2L469.3 588.2L482.1 588.2L482.1 607.6L482.1 627.1L482.1 646.5L482.1 666L482.1 685.4L484.3 704.9L486.1 724.3L489.3 743.8L491.8 750.3L495.5 763.2L501.7 782.7L504 802.1L493.8 802.1L491.8 792.4L489.5 782.7L475.4 763.2L469.3 751.6L464.3 743.8L460.3 724.3L458.1 704.9L459 685.4L459 666L459 646.5L459 627.1L459 607.6L459 588.2ZM596.9 588.2L603.9 588.2L617.9 588.2L619.9 607.7L620.7 627.1L626.3 629.9L626.3 646.5L626.3 666L626.3 685.4L626.3 704.9L626.3 724.3L626.3 743.8L626.3 763.2L626.3 782.7L626.3 802.1L603.9 802.1L596.9 802.1L596.9 782.7L596.9 763.2L596.9 743.8L596 724.3L593.8 704.9L592.7 685.4L592.7 666L593.8 646.5L599.1 627.1L596.9 607.6L596.9 588.2ZM603.9 656.3L602.9 666L602.9 685.4L603.9 695.2L608.4 685.4L609.5 666L603.9 656.3Z" fill="#fedf93" stroke="#fedf93" stroke-width="0.5" fill-rule="evenodd"/>
<path d="M428.4 588.2L446.9 588.2L459 588.2L459 607.6L459 627.1L459 646.5L459 666L459 685.5L458.1 704.9L460.3 724.3L464.3 743.8L469.3 751.6L475.4 763.2L489.5 782.7L491.8 792.4L493.8 802.1L491.8 802.1L484.3 802.1L478.3 782.7L469.3 772.3L446.9 764.7L427.7 782.7L424.5 785.9L405.8 802.1L402 802.1L379.6 802.1L379.6 792.4L402 782.7L402 782.7L424.5 763.2L424.5 763.2L431.2 743.8L431.9 724.3L430.1 704.9L428.4 685.4L428.4 666L428.4 646.5L428.4 627.1L428.4 607.6L428.4 588.2ZM602.9 666L603.9 656.3L609.5 666L608.4 685.4L603.9 695.2L602.9 685.4L602.9 666Z" fill="#feca7f" stroke="#feca7f" stroke-width="0.5" fill-rule="evenodd"/>
<path d="M427.7 782.7L446.9 764.7L469.3 772.3L478.3 782.7L484.3 802.1L474.9 802.1L469.3 787.6L458.1 782.7L446.9 779.7L443.7 782.7L424.5 802.1L424.5 802.1L405.8 802.1L424.5 785.9L427.7 782.7Z" fill="#fdb46a" stroke="#fdb46a" stroke-width="0.5" fill-rule="evenodd"/>
<path d="M443.7 782.7L446.9 779.7L458.1 782.7L469.3 787.6L474.9 802.1L469.3 802.1L456.5 802.1L446.9 796.8L441.7 802.1L424.5 802.1L443.7 782.7Z" fill="#f9975c" stroke="#f9975c" stroke-width="0.5" fill-rule="evenodd"/>
<path d="M441.7 802.1L446.9 796.8L456.5 802.1L446.9 802.1L441.7 802.1Z" fill="#f57b4e" stroke="#f57b4e" stroke-width="0.5" fill-rule="evenodd"/>
</g>
<g clip-path="url(#cq9)">
<use href="#mc" x="424.5" y="588.2"/>
<use href="#mc" x="446.9" y="588.2"/>
<use href="#mc" x="446.9" y="607.6"/>
<use href="#mc" x="446.9" y="627.1"/>
<use href="#mc" x="446.9" y="646.5"/>
<use href="#mc" x="446.9" y="666"/>
<use href="#mc" x="603.9" y="666"/>
<use href="#mc" x="446.9" y="685.4"/>
<use href="#mc" x="603.9" y="685.4"/>
<use href="#mc" x="424.5" y="704.9"/>
<use href="#mc" x="446.9" y="704.9"/>
<use href="#mc" x="446.9" y="724.3"/>
<use href="#mc" x="379.6" y="743.8"/>
<use href="#mc" x="446.9" y="743.8"/>
<use href="#mc" x="379.6" y="763.2"/>
<use href="#mc" x="446.9" y="763.2"/>
<use href="#mc" x="469.3" y="763.2"/>
<use href="#mc" x="379.6" y="782.7"/>
<use href="#mx" x="424.5" y="782.7"/>
<use href="#mc" x="446.9" y="782.7"/>
<use href="#mc" x="469.3" y="782.7"/>
<use href="#mc" x="491.8" y="782.7"/>
<use href="#mx" x="379.6" y="802.1"/>
<use href="#mx" x="424.5" y="802.1"/>
<use href="#mc" x="446.9" y="802.1"/>
<use href="#mc" x="469.3" y="802.1"/>
<use href="#mc" x="491.8" y="802.1"/>
<use href="#mx" x="626.3" y="802.1"/>
<path d="M440.2 770.8L445.8 768.7L470 775.3L478.7 781.9L482.8 793L486.6 803.5" fill="none" stroke="#0a0a0a" stroke-width="3" stroke-linejoin="round" stroke-linecap="butt"/>
<path d="M378.9 803.5L382.7 801.4L396 795.7L402.7 800.2L409.2 791.8L414.1 790.3" fill="none" stroke="#0a0a0a" stroke-width="3" stroke-linejoin="round" stroke-linecap="butt"/>
<path d="M456.8 797.5L462.1 802.9" fill="none" stroke="#0a0a0a" stroke-width="3" stroke-linejoin="round" stroke-linecap="butt"/>
</g>
<g clip-path="url(#cl9)">
<text x="0" y="7.1" transform="translate(431.9 783.7) rotate(-38)" font-size="20.14" text-anchor="middle" fill="#0a0a0a" stroke="#0a0a0a" stroke-width="0.45">0.4</text>
<text x="0" y="7.1" transform="translate(443.5 794.8) rotate(-38)" font-size="20.14" text-anchor="middle" fill="#0a0a0a" stroke="#0a0a0a" stroke-width="0.45">0.6</text>
</g>
<rect x="377.4" y="586.7" width="250.8" height="217" fill="none" stroke="#0a0a0a" stroke-width="1.6"/>
<text x="502.8" y="577.5" font-size="19.3" text-anchor="middle" textLength="94.0" lengthAdjust="spacingAndGlyphs" fill="#111">Bering Sea</text>
<text x="377.5" y="823.5" font-size="19" text-anchor="middle" fill="#111">J</text>
<text x="400.3" y="823.5" font-size="19" text-anchor="middle" fill="#111">F</text>
<text x="423.1" y="823.5" font-size="19" text-anchor="middle" fill="#111">M</text>
<text x="445.9" y="823.5" font-size="19" text-anchor="middle" fill="#111">A</text>
<text x="468.7" y="823.5" font-size="19" text-anchor="middle" fill="#111">M</text>
<text x="491.5" y="823.5" font-size="19" text-anchor="middle" fill="#111">J</text>
<text x="514.3" y="823.5" font-size="19" text-anchor="middle" fill="#111">J</text>
<text x="537.1" y="823.5" font-size="19" text-anchor="middle" fill="#111">A</text>
<text x="559.9" y="823.5" font-size="19" text-anchor="middle" fill="#111">S</text>
<text x="582.7" y="823.5" font-size="19" text-anchor="middle" fill="#111">O</text>
<text x="605.5" y="823.5" font-size="19" text-anchor="middle" fill="#111">N</text>
<text x="628.3" y="823.5" font-size="19" text-anchor="middle" fill="#111">D</text>
<text x="368" y="593.6" font-size="19.5" text-anchor="end" fill="#111">12</text>
<text x="368" y="613.3" font-size="19.5" text-anchor="end" fill="#111">11</text>
<text x="368" y="633.1" font-size="19.5" text-anchor="end" fill="#111">10</text>
<text x="368" y="652.8" font-size="19.5" text-anchor="end" fill="#111">9</text>
<text x="368" y="672.5" font-size="19.5" text-anchor="end" fill="#111">8</text>
<text x="368" y="692.2" font-size="19.5" text-anchor="end" fill="#111">7</text>
<text x="368" y="712" font-size="19.5" text-anchor="end" fill="#111">6</text>
<text x="368" y="731.7" font-size="19.5" text-anchor="end" fill="#111">5</text>
<text x="368" y="751.4" font-size="19.5" text-anchor="end" fill="#111">4</text>
<text x="368" y="771.1" font-size="19.5" text-anchor="end" fill="#111">3</text>
<text x="368" y="790.9" font-size="19.5" text-anchor="end" fill="#111">2</text>
<text x="368" y="810.6" font-size="19.5" text-anchor="end" fill="#111">1</text>
</g>
<g>
<clipPath id="cp10"><rect x="693.4" y="587.9" width="247.3" height="214.5"/></clipPath>
<clipPath id="cl10"><rect x="692.2" y="586.7" width="249.7" height="216.9"/></clipPath>
<clipPath id="cq10"><rect x="691.5" y="586.7" width="250.8" height="217"/></clipPath>
<g clip-path="url(#cp10)">
<rect x="693.7" y="588.2" width="246.7" height="213.9" fill="#f57b4e"/>
<path d="M857.1 588.2L873.1 588.2L885.6 588.2L887.2 607.6L891.8 627.1L895.6 632L901.2 627.1L909 607.6L910.5 588.2L918 588.2L940.4 588.2L940.4 607.6L940.4 627.1L940.4 646.5L940.4 666L940.4 685.4L940.4 704.9L940.4 711.4L918 704.9L895.6 709.8L887.2 724.3L883.1 743.8L878.7 763.2L873.1 782.7L873.1 802.1L873.1 802.1L873.1 802.1L873.1 782.7L867.5 763.2L863.2 743.8L859.1 724.3L850.7 709.8L847 704.9L844.3 685.4L850.7 675.7L857.1 666L857.1 646.5L857.1 627.1L857.1 607.6L857.1 588.2Z" fill="#f9975c" stroke="#f9975c" stroke-width="0.5" fill-rule="evenodd"/>
<path d="M693.7 588.2L716.1 588.2L738.6 588.2L761 588.2L783.4 588.2L805.9 588.2L828.3 588.2L850.7 588.2L857.1 588.2L857.1 607.6L857.1 627.1L857.1 646.5L857.1 666L850.7 675.7L844.3 685.4L847 704.9L850.7 709.8L859.1 724.3L863.2 743.8L867.5 763.2L873.1 782.7L873.1 802.1L850.7 802.1L839.5 802.1L837.9 782.7L828.3 771L811.5 782.7L805.9 789.2L790.9 802.1L783.4 802.1L772.2 802.1L761 798.3L757.3 802.1L738.6 802.1L716.1 802.1L693.7 802.1L693.7 782.7L693.7 763.2L693.7 743.8L693.7 724.3L693.7 704.9L693.7 685.4L693.7 666L693.7 646.5L693.7 627.1L693.7 607.6L693.7 588.2ZM885.6 588.2L895.6 588.2L910.5 588.2L909 607.6L901.2 627.1L895.6 632L891.8 627.1L887.2 607.6L885.6 588.2ZM887.2 724.3L895.6 709.8L918 704.9L940.4 711.4L940.4 724.3L940.4 743.8L940.4 763.2L940.4 782.7L940.4 802.1L918 802.1L895.6 802.1L873.1 802.1L873.1 782.7L878.7 763.2L883.1 743.8L887.2 724.3Z" fill="#f57b4e" stroke="#f57b4e" stroke-width="0.5" fill-rule="evenodd"/>
<path d="M811.5 782.7L828.3 771L837.9 782.7L839.5 802.1L828.3 802.1L805.9 802.1L790.9 802.1L805.8 789.2L811.5 782.7ZM757.3 802.1L761 798.3L772.2 802.1L761 802.1L757.3 802.1Z" fill="#ec6142" stroke="#ec6142" stroke-width="0.5" fill-rule="evenodd"/>
</g>
<g clip-path="url(#cq10)">
<use href="#mc" x="693.7" y="588.2"/>
<use href="#mc" x="716.1" y="588.2"/>
<use href="#mc" x="738.6" y="588.2"/>
<use href="#mc" x="761" y="588.2"/>
<use href="#mc" x="783.4" y="588.2"/>
<use href="#mc" x="805.9" y="588.2"/>
<use href="#mc" x="828.3" y="588.2"/>
<use href="#mc" x="850.7" y="588.2"/>
<use href="#mc" x="873.1" y="588.2"/>
<use href="#mc" x="895.6" y="588.2"/>
<use href="#mc" x="918" y="588.2"/>
<use href="#mc" x="940.4" y="588.2"/>
<use href="#mc" x="693.7" y="607.6"/>
<use href="#mc" x="716.1" y="607.6"/>
<use href="#mc" x="738.6" y="607.6"/>
<use href="#mc" x="761" y="607.6"/>
<use href="#mc" x="783.4" y="607.6"/>
<use href="#mc" x="805.9" y="607.6"/>
<use href="#mc" x="828.3" y="607.6"/>
<use href="#mc" x="850.7" y="607.6"/>
<use href="#mc" x="873.1" y="607.6"/>
<use href="#mc" x="895.6" y="607.6"/>
<use href="#mc" x="918" y="607.6"/>
<use href="#mx" x="940.4" y="607.6"/>
<use href="#mc" x="693.7" y="627.1"/>
<use href="#mc" x="716.1" y="627.1"/>
<use href="#mc" x="738.6" y="627.1"/>
<use href="#mc" x="761" y="627.1"/>
<use href="#mc" x="783.4" y="627.1"/>
<use href="#mc" x="805.9" y="627.1"/>
<use href="#mc" x="828.3" y="627.1"/>
<use href="#mc" x="850.7" y="627.1"/>
<use href="#mc" x="873.1" y="627.1"/>
<use href="#mc" x="895.6" y="627.1"/>
<use href="#mc" x="918" y="627.1"/>
<use href="#mc" x="940.4" y="627.1"/>
<use href="#mc" x="693.7" y="646.5"/>
<use href="#mc" x="716.1" y="646.5"/>
<use href="#mc" x="738.6" y="646.5"/>
<use href="#mc" x="761" y="646.5"/>
<use href="#mc" x="783.4" y="646.5"/>
<use href="#mc" x="805.9" y="646.5"/>
<use href="#mc" x="828.3" y="646.5"/>
<use href="#mc" x="850.7" y="646.5"/>
<use href="#mc" x="873.1" y="646.5"/>
<use href="#mc" x="895.6" y="646.5"/>
<use href="#mc" x="918" y="646.5"/>
<use href="#mc" x="940.4" y="646.5"/>
<use href="#mc" x="693.7" y="666"/>
<use href="#mc" x="716.1" y="666"/>
<use href="#mc" x="738.6" y="666"/>
<use href="#mc" x="761" y="666"/>
<use href="#mc" x="783.4" y="666"/>
<use href="#mc" x="805.9" y="666"/>
<use href="#mc" x="828.3" y="666"/>
<use href="#mc" x="850.7" y="666"/>
<use href="#mx" x="873.1" y="666"/>
<use href="#mc" x="895.6" y="666"/>
<use href="#mx" x="918" y="666"/>
<use href="#mc" x="940.4" y="666"/>
<use href="#mc" x="693.7" y="685.4"/>
<use href="#mc" x="716.1" y="685.4"/>
<use href="#mc" x="738.6" y="685.4"/>
<use href="#mc" x="761" y="685.4"/>
<use href="#mc" x="783.4" y="685.4"/>
<use href="#mc" x="805.9" y="685.4"/>
<use href="#mc" x="828.3" y="685.4"/>
<use href="#mc" x="850.7" y="685.4"/>
<use href="#mx" x="873.1" y="685.4"/>
<use href="#mx" x="895.6" y="685.4"/>
<use href="#mx" x="918" y="685.4"/>
<use href="#mx" x="940.4" y="685.4"/>
<use href="#mc" x="693.7" y="704.9"/>
<use href="#mc" x="716.1" y="704.9"/>
<use href="#mc" x="738.6" y="704.9"/>
<use href="#mc" x="761" y="704.9"/>
<use href="#mc" x="783.4" y="704.9"/>
<use href="#mc" x="805.9" y="704.9"/>
<use href="#mc" x="828.3" y="704.9"/>
<use href="#mx" x="850.7" y="704.9"/>
<use href="#mx" x="873.1" y="704.9"/>
<use href="#mx" x="895.6" y="704.9"/>
<use href="#mx" x="918" y="704.9"/>
<use href="#mx" x="940.4" y="704.9"/>
<use href="#mc" x="693.7" y="724.3"/>
<use href="#mc" x="716.1" y="724.3"/>
<use href="#mc" x="738.6" y="724.3"/>
<use href="#mc" x="761" y="724.3"/>
<use href="#mc" x="783.4" y="724.3"/>
<use href="#mc" x="805.9" y="724.3"/>
<use href="#mc" x="828.3" y="724.3"/>
<use href="#mx" x="850.7" y="724.3"/>
<use href="#mx" x="873.1" y="724.3"/>
<use href="#mx" x="895.6" y="724.3"/>
<use href="#mx" x="918" y="724.3"/>
<use href="#mx" x="940.4" y="724.3"/>
<use href="#mx" x="693.7" y="743.8"/>
<use href="#mc" x="716.1" y="743.8"/>
<use href="#mc" x="738.6" y="743.8"/>
<use href="#mc" x="761" y="743.8"/>
<use href="#mc" x="783.4" y="743.8"/>
<use href="#mc" x="805.9" y="743.8"/>
<use href="#mc" x="828.3" y="743.8"/>
<use href="#mx" x="850.7" y="743.8"/>
<use href="#mx" x="873.1" y="743.8"/>
<use href="#mx" x="895.6" y="743.8"/>
<use href="#mx" x="918" y="743.8"/>
<use href="#mx" x="940.4" y="743.8"/>
<use href="#mx" x="693.7" y="763.2"/>
<use href="#mx" x="716.1" y="763.2"/>
<use href="#mc" x="738.6" y="763.2"/>
<use href="#mc" x="761" y="763.2"/>
<use href="#mc" x="783.4" y="763.2"/>
<use href="#mc" x="805.9" y="763.2"/>
<use href="#mc" x="828.3" y="763.2"/>
<use href="#mx" x="850.7" y="763.2"/>
<use href="#mx" x="873.1" y="763.2"/>
<use href="#mx" x="895.6" y="763.2"/>
<use href="#mx" x="918" y="763.2"/>
<use href="#mx" x="940.4" y="763.2"/>
<use href="#mx" x="693.7" y="782.7"/>
<use href="#mx" x="716.1" y="782.7"/>
<use href="#mx" x="738.6" y="782.7"/>
<use href="#mc" x="761" y="782.7"/>
<use href="#mc" x="783.4" y="782.7"/>
<use href="#mc" x="805.9" y="782.7"/>
<use href="#mc" x="828.3" y="782.7"/>
<use href="#mx" x="850.7" y="782.7"/>
<use href="#mx" x="873.1" y="782.7"/>
<use href="#mx" x="895.6" y="782.7"/>
<use href="#mx" x="918" y="782.7"/>
<use href="#mx" x="940.4" y="782.7"/>
<use href="#mx" x="693.7" y="802.1"/>
<use href="#mx" x="716.1" y="802.1"/>
<use href="#mx" x="738.6" y="802.1"/>
<use href="#mx" x="761" y="802.1"/>
<use href="#mx" x="783.4" y="802.1"/>
<use href="#mx" x="805.9" y="802.1"/>
<use href="#mx" x="828.3" y="802.1"/>
<use href="#mx" x="850.7" y="802.1"/>
<use href="#mx" x="873.1" y="802.1"/>
<use href="#mx" x="895.6" y="802.1"/>
<use href="#mx" x="918" y="802.1"/>
<use href="#mx" x="940.4" y="802.1"/>
<path d="M858.1 588.2L858.8 603.8L858.1 620.5L858.3 644L855.9 660" fill="none" stroke="#0a0a0a" stroke-width="3" stroke-linejoin="round" stroke-linecap="butt"/>
<path d="M848 685.8L848 708.2L857 726.3L863.7 751L870.9 777.4L872.7 782.7L872.7 803.1" fill="none" stroke="#0a0a0a" stroke-width="3" stroke-linejoin="round" stroke-linecap="butt"/>
<path d="M872.7 782.7L880.8 757.8" fill="none" stroke="#0a0a0a" stroke-width="3" stroke-linejoin="round" stroke-linecap="butt"/>
<path d="M888.6 727.5L895.3 707.2L904.3 703.7L905.4 694.8L918.9 703.7L941.3 710.5" fill="none" stroke="#0a0a0a" stroke-width="3" stroke-linejoin="round" stroke-linecap="butt"/>
<path d="M886.4 588.2L887.5 620.5L890.9 635.3" fill="none" stroke="#0a0a0a" stroke-width="3" stroke-linejoin="round" stroke-linecap="butt"/>
<path d="M912.2 588.2L911 607.1L905.4 616L905.4 622.8" fill="none" stroke="#0a0a0a" stroke-width="3" stroke-linejoin="round" stroke-linecap="butt"/>
</g>
<g clip-path="url(#cl10)">
<text x="0" y="7" transform="translate(853.6 674.6) rotate(-58)" font-size="19.61" text-anchor="middle" fill="#0a0a0a" stroke="#0a0a0a" stroke-width="0.45">0.6</text>
<text x="0" y="7" transform="translate(884.8 742.4) rotate(-77)" font-size="19.61" text-anchor="middle" fill="#0a0a0a" stroke="#0a0a0a" stroke-width="0.45">0.6</text>
<text x="0" y="7" transform="translate(902.5 637.4) rotate(-53)" font-size="19.61" text-anchor="middle" fill="#0a0a0a" stroke="#0a0a0a" stroke-width="0.45">0.6</text>
</g>
<rect x="691.5" y="586.7" width="250.8" height="217" fill="none" stroke="#0a0a0a" stroke-width="1.6"/>
<text x="816.9" y="577.5" font-size="19.3" text-anchor="middle" textLength="194.5" lengthAdjust="spacingAndGlyphs" fill="#111">Canadian Archipelago</text>
<text x="691.6" y="823.5" font-size="19" text-anchor="middle" fill="#111">J</text>
<text x="714.4" y="823.5" font-size="19" text-anchor="middle" fill="#111">F</text>
<text x="737.2" y="823.5" font-size="19" text-anchor="middle" fill="#111">M</text>
<text x="760" y="823.5" font-size="19" text-anchor="middle" fill="#111">A</text>
<text x="782.8" y="823.5" font-size="19" text-anchor="middle" fill="#111">M</text>
<text x="805.6" y="823.5" font-size="19" text-anchor="middle" fill="#111">J</text>
<text x="828.4" y="823.5" font-size="19" text-anchor="middle" fill="#111">J</text>
<text x="851.2" y="823.5" font-size="19" text-anchor="middle" fill="#111">A</text>
<text x="874" y="823.5" font-size="19" text-anchor="middle" fill="#111">S</text>
<text x="896.8" y="823.5" font-size="19" text-anchor="middle" fill="#111">O</text>
<text x="919.6" y="823.5" font-size="19" text-anchor="middle" fill="#111">N</text>
<text x="942.4" y="823.5" font-size="19" text-anchor="middle" fill="#111">D</text>
<text x="682.1" y="593.6" font-size="19.5" text-anchor="end" fill="#111">12</text>
<text x="682.1" y="613.3" font-size="19.5" text-anchor="end" fill="#111">11</text>
<text x="682.1" y="633.1" font-size="19.5" text-anchor="end" fill="#111">10</text>
<text x="682.1" y="652.8" font-size="19.5" text-anchor="end" fill="#111">9</text>
<text x="682.1" y="672.5" font-size="19.5" text-anchor="end" fill="#111">8</text>
<text x="682.1" y="692.2" font-size="19.5" text-anchor="end" fill="#111">7</text>
<text x="682.1" y="712" font-size="19.5" text-anchor="end" fill="#111">6</text>
<text x="682.1" y="731.7" font-size="19.5" text-anchor="end" fill="#111">5</text>
<text x="682.1" y="751.4" font-size="19.5" text-anchor="end" fill="#111">4</text>
<text x="682.1" y="771.1" font-size="19.5" text-anchor="end" fill="#111">3</text>
<text x="682.1" y="790.9" font-size="19.5" text-anchor="end" fill="#111">2</text>
<text x="682.1" y="810.6" font-size="19.5" text-anchor="end" fill="#111">1</text>
</g>
<g>
<clipPath id="cp11"><rect x="1007.5" y="587.9" width="247.3" height="214.5"/></clipPath>
<clipPath id="cl11"><rect x="1006.3" y="586.7" width="249.7" height="216.9"/></clipPath>
<clipPath id="cq11"><rect x="1005.6" y="586.7" width="250.8" height="217"/></clipPath>
<g clip-path="url(#cp11)">
<rect x="1007.8" y="588.2" width="246.7" height="213.9" fill="#fdb46a"/>
<path d="M1177.3 588.2L1187.2 588.2L1192.8 588.2L1192.8 607.6L1192.8 627.1L1192.8 646.5L1192.8 666L1192.5 685.4L1192.2 704.9L1192.2 724.3L1192.2 743.8L1191.2 763.2L1190 782.7L1189.7 802.1L1187.2 802.1L1182.8 802.1L1182.3 782.7L1179.8 763.2L1177.3 743.8L1177.3 724.3L1177.3 704.9L1177.3 685.4L1177.3 666L1177.3 646.5L1177.3 627.1L1177.3 607.6L1177.3 588.2Z" fill="#feeea8" stroke="#feeea8" stroke-width="0.5" fill-rule="evenodd"/>
<path d="M1156.8 588.2L1164.8 588.2L1177.3 588.2L1177.3 607.6L1177.3 627.1L1177.3 646.5L1177.3 666L1177.3 685.4L1177.3 704.9L1177.3 724.3L1177.3 743.8L1179.8 763.2L1182.3 782.7L1182.8 802.1L1164.8 802.1L1162.2 802.1L1160.9 782.7L1159.5 763.2L1158.2 743.8L1157.8 724.3L1157.3 704.9L1157.3 685.4L1157.3 666L1157.8 646.5L1157.8 627.1L1157.8 607.6L1156.8 588.2ZM1192.8 588.2L1206.9 588.2L1206.9 607.6L1206.9 627.1L1206.9 646.5L1206.9 666L1205.7 685.5L1204.7 704.9L1204.7 724.3L1204.7 743.8L1204.4 763.2L1204.1 782.7L1202.2 802.1L1189.7 802.1L1190 782.7L1191.2 763.2L1192.2 743.8L1192.2 724.3L1192.2 704.9L1192.5 685.4L1192.8 666L1192.8 646.5L1192.8 627.1L1192.8 607.6L1192.8 588.2Z" fill="#fedf93" stroke="#fedf93" stroke-width="0.5" fill-rule="evenodd"/>
<path d="M1134.9 588.2L1142.4 588.2L1156.8 588.2L1157.8 607.6L1157.8 627.1L1157.8 646.5L1157.3 666L1157.3 685.4L1157.3 704.9L1157.8 724.3L1158.2 743.8L1159.5 763.2L1160.9 782.7L1162.2 802.1L1149 802.1L1147.7 782.7L1146.3 763.2L1145 743.8L1143.8 724.3L1142.4 704.9L1142.4 704.9L1142.4 685.4L1142.4 666L1142.4 666L1143.8 646.6L1143.8 627.1L1143.8 607.7L1142.4 597.9L1134.9 588.2ZM1206.9 588.2L1209.7 588.2L1229.6 588.2L1227.6 607.6L1227.6 627.1L1227.6 646.5L1229.6 666L1227.1 685.4L1226.5 704.9L1228.9 724.3L1228.9 743.8L1226.5 763.2L1224.6 782.7L1218.6 802.1L1209.7 802.1L1202.2 802.1L1204.1 782.7L1204.4 763.2L1204.7 743.8L1204.7 724.3L1204.7 704.9L1205.7 685.5L1206.9 666L1206.9 646.5L1206.9 627.1L1206.9 607.6L1206.9 588.2Z" fill="#feca7f" stroke="#feca7f" stroke-width="0.5" fill-rule="evenodd"/>
<path d="M1007.8 588.2L1030.2 588.2L1052.7 588.2L1075.1 588.2L1097.5 588.2L1120 588.2L1134.9 588.2L1142.4 597.9L1143.8 607.6L1143.8 627.1L1143.8 646.5L1142.4 666L1142.4 666L1142.4 685.4L1142.4 704.9L1142.4 704.9L1143.8 724.3L1145 743.8L1146.3 763.2L1147.7 782.7L1149 802.1L1142.4 802.1L1126.4 802.1L1120 789.2L1114.3 782.7L1097.5 763.2L1097.5 763.2L1082.6 743.8L1075.1 738.9L1069.5 743.8L1060.1 763.2L1052.7 767.1L1045.2 763.2L1033.4 743.8L1030.2 741L1027 743.8L1007.8 758.4L1007.8 743.8L1007.8 724.3L1007.8 704.9L1007.8 685.4L1007.8 666L1007.8 646.5L1007.8 627.1L1007.8 607.6L1007.8 588.2ZM1229.6 588.2L1232.1 588.2L1254.5 588.2L1254.5 607.6L1254.5 627.1L1254.5 646.5L1254.5 666L1254.5 685.4L1254.5 704.9L1254.5 724.3L1254.5 743.8L1254.5 763.2L1254.5 773L1249.5 782.7L1241.1 802.1L1232.1 802.1L1218.6 802.1L1224.6 782.7L1226.5 763.2L1228.9 743.8L1228.9 724.3L1226.5 704.9L1227.1 685.4L1229.6 666L1227.6 646.5L1227.6 627.1L1227.6 607.6L1229.6 588.2Z" fill="#fdb46a" stroke="#fdb46a" stroke-width="0.5" fill-rule="evenodd"/>
<path d="M1027 743.8L1030.2 741L1033.4 743.8L1045.2 763.2L1052.7 767.1L1060.1 763.2L1069.5 743.8L1075.1 738.9L1082.6 743.8L1097.5 763.2L1097.5 763.2L1114.3 782.7L1120 789.2L1126.4 802.1L1120 802.1L1097.5 802.1L1086.3 802.1L1075.1 796.6L1052.7 794.4L1030.2 793.5L1007.8 798.3L1007.8 782.7L1007.8 763.2L1007.8 758.4L1027 743.8ZM1249.5 782.7L1254.5 773L1254.5 782.7L1254.5 802.1L1241.1 802.1L1249.5 782.7Z" fill="#f9975c" stroke="#f9975c" stroke-width="0.5" fill-rule="evenodd"/>
<path d="M1007.8 802.1L1007.8 798.3L1030.2 793.5L1052.7 794.4L1075.1 796.6L1086.3 802.1L1075.1 802.1L1052.7 802.1L1030.2 802.1L1007.8 802.1Z" fill="#f57b4e" stroke="#f57b4e" stroke-width="0.5" fill-rule="evenodd"/>
</g>
<g clip-path="url(#cq11)">
<use href="#mc" x="1007.8" y="588.2"/>
<use href="#mc" x="1030.2" y="588.2"/>
<use href="#mc" x="1052.7" y="588.2"/>
<use href="#mc" x="1075.1" y="588.2"/>
<use href="#mc" x="1097.5" y="588.2"/>
<use href="#mc" x="1120" y="588.2"/>
<use href="#mx" x="1142.4" y="588.2"/>
<use href="#mx" x="1209.7" y="588.2"/>
<use href="#mc" x="1232.1" y="588.2"/>
<use href="#mc" x="1254.5" y="588.2"/>
<use href="#mc" x="1007.8" y="607.6"/>
<use href="#mc" x="1030.2" y="607.6"/>
<use href="#mc" x="1052.7" y="607.6"/>
<use href="#mc" x="1075.1" y="607.6"/>
<use href="#mc" x="1097.5" y="607.6"/>
<use href="#mc" x="1120" y="607.6"/>
<use href="#mc" x="1142.4" y="607.6"/>
<use href="#mx" x="1209.7" y="607.6"/>
<use href="#mc" x="1232.1" y="607.6"/>
<use href="#mc" x="1254.5" y="607.6"/>
<use href="#mc" x="1007.8" y="627.1"/>
<use href="#mc" x="1030.2" y="627.1"/>
<use href="#mc" x="1052.7" y="627.1"/>
<use href="#mc" x="1075.1" y="627.1"/>
<use href="#mc" x="1097.5" y="627.1"/>
<use href="#mc" x="1120" y="627.1"/>
<use href="#mc" x="1142.4" y="627.1"/>
<use href="#mx" x="1209.7" y="627.1"/>
<use href="#mc" x="1232.1" y="627.1"/>
<use href="#mc" x="1254.5" y="627.1"/>
<use href="#mc" x="1007.8" y="646.5"/>
<use href="#mc" x="1030.2" y="646.5"/>
<use href="#mc" x="1052.7" y="646.5"/>
<use href="#mc" x="1075.1" y="646.5"/>
<use href="#mc" x="1097.5" y="646.5"/>
<use href="#mc" x="1120" y="646.5"/>
<use href="#mc" x="1142.4" y="646.5"/>
<use href="#mx" x="1209.7" y="646.5"/>
<use href="#mc" x="1232.1" y="646.5"/>
<use href="#mc" x="1254.5" y="646.5"/>
<use href="#mc" x="1007.8" y="666"/>
<use href="#mc" x="1030.2" y="666"/>
<use href="#mc" x="1052.7" y="666"/>
<use href="#mc" x="1075.1" y="666"/>
<use href="#mc" x="1097.5" y="666"/>
<use href="#mc" x="1120" y="666"/>
<use href="#mc" x="1142.4" y="666"/>
<use href="#mx" x="1209.7" y="666"/>
<use href="#mc" x="1232.1" y="666"/>
<use href="#mc" x="1254.5" y="666"/>
<use href="#mc" x="1007.8" y="685.4"/>
<use href="#mc" x="1030.2" y="685.4"/>
<use href="#mc" x="1052.7" y="685.4"/>
<use href="#mc" x="1075.1" y="685.4"/>
<use href="#mc" x="1097.5" y="685.4"/>
<use href="#mc" x="1120" y="685.4"/>
<use href="#mc" x="1142.4" y="685.4"/>
<use href="#mx" x="1209.7" y="685.4"/>
<use href="#mc" x="1232.1" y="685.4"/>
<use href="#mc" x="1254.5" y="685.4"/>
<use href="#mc" x="1007.8" y="704.9"/>
<use href="#mc" x="1030.2" y="704.9"/>
<use href="#mc" x="1052.7" y="704.9"/>
<use href="#mc" x="1075.1" y="704.9"/>
<use href="#mc" x="1097.5" y="704.9"/>
<use href="#mc" x="1120" y="704.9"/>
<use href="#mc" x="1142.4" y="704.9"/>
<use href="#mc" x="1209.7" y="704.9"/>
<use href="#mc" x="1232.1" y="704.9"/>
<use href="#mc" x="1254.5" y="704.9"/>
<use href="#mc" x="1007.8" y="724.3"/>
<use href="#mc" x="1030.2" y="724.3"/>
<use href="#mc" x="1052.7" y="724.3"/>
<use href="#mc" x="1075.1" y="724.3"/>
<use href="#mc" x="1097.5" y="724.3"/>
<use href="#mc" x="1120" y="724.3"/>
<use href="#mc" x="1142.4" y="724.3"/>
<use href="#mc" x="1209.7" y="724.3"/>
<use href="#mc" x="1232.1" y="724.3"/>
<use href="#mc" x="1254.5" y="724.3"/>
<use href="#mc" x="1007.8" y="743.8"/>
<use href="#mc" x="1030.2" y="743.8"/>
<use href="#mc" x="1052.7" y="743.8"/>
<use href="#mc" x="1075.1" y="743.8"/>
<use href="#mc" x="1097.5" y="743.8"/>
<use href="#mc" x="1120" y="743.8"/>
<use href="#mx" x="1142.4" y="743.8"/>
<use href="#mc" x="1209.7" y="743.8"/>
<use href="#mc" x="1232.1" y="743.8"/>
<use href="#mc" x="1254.5" y="743.8"/>
<use href="#mc" x="1007.8" y="763.2"/>
<use href="#mc" x="1030.2" y="763.2"/>
<use href="#mc" x="1052.7" y="763.2"/>
<use href="#mc" x="1075.1" y="763.2"/>
<use href="#mc" x="1097.5" y="763.2"/>
<use href="#mc" x="1120" y="763.2"/>
<use href="#mx" x="1142.4" y="763.2"/>
<use href="#mx" x="1209.7" y="763.2"/>
<use href="#mc" x="1232.1" y="763.2"/>
<use href="#mc" x="1254.5" y="763.2"/>
<use href="#mc" x="1007.8" y="782.7"/>
<use href="#mx" x="1030.2" y="782.7"/>
<use href="#mc" x="1052.7" y="782.7"/>
<use href="#mc" x="1075.1" y="782.7"/>
<use href="#mc" x="1097.5" y="782.7"/>
<use href="#mc" x="1120" y="782.7"/>
<use href="#mc" x="1142.4" y="782.7"/>
<use href="#mx" x="1209.7" y="782.7"/>
<use href="#mc" x="1232.1" y="782.7"/>
<use href="#mc" x="1254.5" y="782.7"/>
<use href="#mx" x="1007.8" y="802.1"/>
<use href="#mx" x="1030.2" y="802.1"/>
<use href="#mx" x="1052.7" y="802.1"/>
<use href="#mx" x="1075.1" y="802.1"/>
<use href="#mx" x="1097.5" y="802.1"/>
<use href="#mx" x="1120" y="802.1"/>
<use href="#mx" x="1142.4" y="802.1"/>
<use href="#mx" x="1164.8" y="802.1"/>
<use href="#mx" x="1209.7" y="802.1"/>
<use href="#mx" x="1232.1" y="802.1"/>
<use href="#mc" x="1254.5" y="802.1"/>
<path d="M1106.9 588.2L1118.2 599.9L1137.7 602.4L1142.4 597.7L1142.4 643" fill="none" stroke="#0a0a0a" stroke-width="3" stroke-linejoin="round" stroke-linecap="butt"/>
<path d="M1140.1 673.4L1136.5 700L1142.2 719.5L1144.6 754.9L1148.4 774.9L1154.7 802.1" fill="none" stroke="#0a0a0a" stroke-width="3" stroke-linejoin="round" stroke-linecap="butt"/>
<path d="M1214.2 802.1L1216.6 780L1222.9 752.4L1224.2 736" fill="none" stroke="#0a0a0a" stroke-width="3" stroke-linejoin="round" stroke-linecap="butt"/>
<path d="M1226.5 704.9L1224.7 699.3L1238.8 688.2L1238.4 670.1L1248.2 666.6L1230.3 647.7L1231.4 637.4L1254.5 655.9" fill="none" stroke="#0a0a0a" stroke-width="3" stroke-linejoin="round" stroke-linecap="butt"/>
<path d="M1008.7 802.1L1016.1 796.5L1027.5 791.5" fill="none" stroke="#0a0a0a" stroke-width="3" stroke-linejoin="round" stroke-linecap="butt"/>
<path d="M1058.9 789.7L1080.5 795.1L1096.8 800.2L1099.3 802.1" fill="none" stroke="#0a0a0a" stroke-width="3" stroke-linejoin="round" stroke-linecap="butt"/>
<path d="M1249.4 802.1L1252.3 798.3L1254.5 797.3" fill="none" stroke="#0a0a0a" stroke-width="3" stroke-linejoin="round" stroke-linecap="butt"/>
<path d="M1232.5 606.7L1232.5 611.5" fill="none" stroke="#0a0a0a" stroke-width="3.8" stroke-linecap="butt"/>
</g>
<g clip-path="url(#cl11)">
<text x="0" y="7" transform="translate(1143.1 657.8) rotate(-88)" font-size="19.61" text-anchor="middle" fill="#0a0a0a" stroke="#0a0a0a" stroke-width="0.45">0.4</text>
<text x="0" y="7" transform="translate(1226.9 717.5) rotate(-70)" font-size="19.61" text-anchor="middle" fill="#0a0a0a" stroke="#0a0a0a" stroke-width="0.45">0.4</text>
<text x="0" y="7" transform="translate(1044.8 795.3) rotate(-10)" font-size="19.61" text-anchor="middle" fill="#0a0a0a" stroke="#0a0a0a" stroke-width="0.45">0.6</text>
</g>
<rect x="1005.6" y="586.7" width="250.8" height="217" fill="none" stroke="#0a0a0a" stroke-width="1.6"/>
<text x="1131" y="577.5" font-size="19.3" text-anchor="middle" textLength="87.4" lengthAdjust="spacingAndGlyphs" fill="#111">Baffin Bay</text>
<text x="1005.7" y="823.5" font-size="19" text-anchor="middle" fill="#111">J</text>
<text x="1028.5" y="823.5" font-size="19" text-anchor="middle" fill="#111">F</text>
<text x="1051.3" y="823.5" font-size="19" text-anchor="middle" fill="#111">M</text>
<text x="1074.1" y="823.5" font-size="19" text-anchor="middle" fill="#111">A</text>
<text x="1096.9" y="823.5" font-size="19" text-anchor="middle" fill="#111">M</text>
<text x="1119.7" y="823.5" font-size="19" text-anchor="middle" fill="#111">J</text>
<text x="1142.5" y="823.5" font-size="19" text-anchor="middle" fill="#111">J</text>
<text x="1165.3" y="823.5" font-size="19" text-anchor="middle" fill="#111">A</text>
<text x="1188.1" y="823.5" font-size="19" text-anchor="middle" fill="#111">S</text>
<text x="1210.9" y="823.5" font-size="19" text-anchor="middle" fill="#111">O</text>
<text x="1233.7" y="823.5" font-size="19" text-anchor="middle" fill="#111">N</text>
<text x="1256.5" y="823.5" font-size="19" text-anchor="middle" fill="#111">D</text>
<text x="996.2" y="593.6" font-size="19.5" text-anchor="end" fill="#111">12</text>
<text x="996.2" y="613.3" font-size="19.5" text-anchor="end" fill="#111">11</text>
<text x="996.2" y="633.1" font-size="19.5" text-anchor="end" fill="#111">10</text>
<text x="996.2" y="652.8" font-size="19.5" text-anchor="end" fill="#111">9</text>
<text x="996.2" y="672.5" font-size="19.5" text-anchor="end" fill="#111">8</text>
<text x="996.2" y="692.2" font-size="19.5" text-anchor="end" fill="#111">7</text>
<text x="996.2" y="712" font-size="19.5" text-anchor="end" fill="#111">6</text>
<text x="996.2" y="731.7" font-size="19.5" text-anchor="end" fill="#111">5</text>
<text x="996.2" y="751.4" font-size="19.5" text-anchor="end" fill="#111">4</text>
<text x="996.2" y="771.1" font-size="19.5" text-anchor="end" fill="#111">3</text>
<text x="996.2" y="790.9" font-size="19.5" text-anchor="end" fill="#111">2</text>
<text x="996.2" y="810.6" font-size="19.5" text-anchor="end" fill="#111">1</text>
</g>
<text transform="translate(21.4 419.9) rotate(-90)" font-size="23.6" text-anchor="middle" textLength="145.5" lengthAdjust="spacingAndGlyphs" fill="#111">Lead months</text>
<text x="651.1" y="857.2" font-size="23.4" text-anchor="middle" textLength="151.5" lengthAdjust="spacingAndGlyphs" fill="#111">Target month</text>
<rect x="218.8" y="907.2" width="45" height="16.4" fill="#3a54a4"/>
<rect x="263.5" y="907.2" width="45" height="16.4" fill="#4471b2"/>
<rect x="308.2" y="907.2" width="45" height="16.4" fill="#588cc0"/>
<rect x="352.8" y="907.2" width="45" height="16.4" fill="#6ea6ce"/>
<rect x="397.5" y="907.2" width="45" height="16.4" fill="#85bbd9"/>
<rect x="442.2" y="907.2" width="45" height="16.4" fill="#9fd0e4"/>
<rect x="486.9" y="907.2" width="45" height="16.4" fill="#b9e0ed"/>
<rect x="531.6" y="907.2" width="45" height="16.4" fill="#d1ecf4"/>
<rect x="576.2" y="907.2" width="45" height="16.4" fill="#e6f5ed"/>
<rect x="620.9" y="907.2" width="45" height="16.4" fill="#f3fbd4"/>
<rect x="665.6" y="907.2" width="45" height="16.4" fill="#fffcba"/>
<rect x="710.3" y="907.2" width="45" height="16.4" fill="#feeda4"/>
<rect x="755" y="907.2" width="45" height="16.4" fill="#fede8e"/>
<rect x="799.6" y="907.2" width="45" height="16.4" fill="#fec87a"/>
<rect x="844.3" y="907.2" width="45" height="16.4" fill="#fdb164"/>
<rect x="889" y="907.2" width="45" height="16.4" fill="#f99355"/>
<rect x="933.7" y="907.2" width="45" height="16.4" fill="#f57547"/>
<rect x="978.4" y="907.2" width="45" height="16.4" fill="#eb5a3a"/>
<rect x="1023" y="907.2" width="45" height="16.4" fill="#dd3d2d"/>
<rect x="1067.7" y="907.2" width="45" height="16.4" fill="#ca2427"/>
<rect x="218.8" y="906.3" width="893.6" height="1.3" fill="#222"/>
<text x="218.2" y="899.7" font-size="19.4" text-anchor="middle" textLength="37.6" lengthAdjust="spacingAndGlyphs" fill="#111">-1.0</text>
<text x="307.6" y="899.7" font-size="19.4" text-anchor="middle" textLength="37.6" lengthAdjust="spacingAndGlyphs" fill="#111">-0.8</text>
<text x="396.9" y="899.7" font-size="19.4" text-anchor="middle" textLength="37.6" lengthAdjust="spacingAndGlyphs" fill="#111">-0.6</text>
<text x="486.3" y="899.7" font-size="19.4" text-anchor="middle" textLength="37.6" lengthAdjust="spacingAndGlyphs" fill="#111">-0.4</text>
<text x="575.6" y="899.7" font-size="19.4" text-anchor="middle" textLength="37.6" lengthAdjust="spacingAndGlyphs" fill="#111">-0.2</text>
<text x="664" y="899.7" font-size="19.4" text-anchor="middle" textLength="29.5" lengthAdjust="spacingAndGlyphs" fill="#111">0.0</text>
<text x="753.4" y="899.7" font-size="19.4" text-anchor="middle" textLength="29.5" lengthAdjust="spacingAndGlyphs" fill="#111">0.2</text>
<text x="842.7" y="899.7" font-size="19.4" text-anchor="middle" textLength="29.5" lengthAdjust="spacingAndGlyphs" fill="#111">0.4</text>
<text x="932.1" y="899.7" font-size="19.4" text-anchor="middle" textLength="29.5" lengthAdjust="spacingAndGlyphs" fill="#111">0.6</text>
<text x="1021.4" y="899.7" font-size="19.4" text-anchor="middle" textLength="29.5" lengthAdjust="spacingAndGlyphs" fill="#111">0.8</text>
<text x="1110.8" y="899.7" font-size="19.4" text-anchor="middle" textLength="29.5" lengthAdjust="spacingAndGlyphs" fill="#111">1.0</text>
</svg>
</body></html>
